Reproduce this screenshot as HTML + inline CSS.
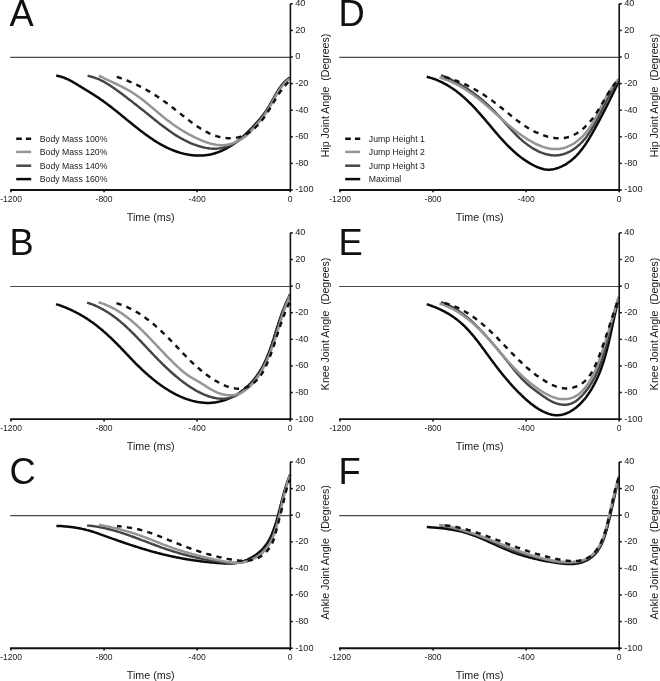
<!DOCTYPE html>
<html><head><meta charset="utf-8"><style>
html,body{margin:0;padding:0;background:#fff;}
svg{display:block;will-change:transform;}
text{font-family:"Liberation Sans", sans-serif;fill:#1a1a1a;}
.tk{font-size:9.2px;}
.tkx{font-size:8.5px;}
.xl{font-size:10.7px;}
.yl{font-size:10.6px;}
.lg{font-size:8.7px;}
.lt{font-size:36.3px;fill:#111;}
</style></head><body>
<svg width="660" height="681" viewBox="0 0 660 681">
<rect width="660" height="681" fill="#fff"/>
<line x1="10.20" y1="57.40" x2="290.20" y2="57.40" stroke="#4a4a4a" stroke-width="1.1"/>
<path d="M56.2,75.6 L56.9,75.7 L57.7,75.9 L58.4,76.0 L59.1,76.2 L59.8,76.4 L60.5,76.5 L61.2,76.8 L61.9,77.0 L62.6,77.2 L63.3,77.4 L64.0,77.7 L64.7,78.0 L65.3,78.2 L66.0,78.5 L66.6,78.8 L67.3,79.1 L68.0,79.4 L68.6,79.7 L69.3,80.0 L69.9,80.4 L70.5,80.7 L71.2,81.0 L71.8,81.4 L72.5,81.7 L73.1,82.1 L73.7,82.5 L74.3,82.8 L75.0,83.2 L75.6,83.6 L76.2,83.9 L76.9,84.3 L77.5,84.7 L78.1,85.1 L78.7,85.5 L79.3,85.8 L80.0,86.2 L80.6,86.6 L81.2,87.0 L81.8,87.4 L82.5,87.8 L83.1,88.1 L83.7,88.5 L84.3,88.9 L85.0,89.3 L85.6,89.7 L86.2,90.1 L86.8,90.4 L87.5,90.8 L88.1,91.2 L88.7,91.6 L89.3,92.0 L90.0,92.4 L90.6,92.8 L91.2,93.2 L91.8,93.5 L92.4,93.9 L93.1,94.3 L93.7,94.7 L94.3,95.1 L94.9,95.5 L95.5,95.9 L96.1,96.3 L96.8,96.7 L97.4,97.1 L98.0,97.5 L98.6,97.9 L99.2,98.3 L99.8,98.7 L100.4,99.2 L101.0,99.6 L101.6,100.0 L102.2,100.4 L102.8,100.8 L103.4,101.3 L104.0,101.7 L104.5,102.1 L105.1,102.5 L105.7,103.0 L106.3,103.4 L106.9,103.8 L107.5,104.3 L108.0,104.7 L108.6,105.1 L109.2,105.6 L109.8,106.0 L110.4,106.5 L110.9,106.9 L111.5,107.3 L112.1,107.8 L112.6,108.2 L113.2,108.7 L113.8,109.1 L114.4,109.6 L114.9,110.0 L115.5,110.5 L116.1,110.9 L116.6,111.4 L117.2,111.8 L117.8,112.3 L118.3,112.8 L118.9,113.2 L119.5,113.7 L120.0,114.1 L120.6,114.6 L121.1,115.0 L121.7,115.5 L122.3,116.0 L122.8,116.4 L123.4,116.9 L124.0,117.3 L124.5,117.8 L125.1,118.3 L125.6,118.7 L126.2,119.2 L126.8,119.6 L127.3,120.1 L127.9,120.6 L128.5,121.0 L129.0,121.5 L129.6,121.9 L130.2,122.4 L130.7,122.9 L131.3,123.3 L131.9,123.8 L132.4,124.2 L133.0,124.7 L133.6,125.2 L134.1,125.6 L134.7,126.1 L135.3,126.5 L135.8,127.0 L136.4,127.4 L137.0,127.9 L137.6,128.3 L138.1,128.8 L138.7,129.2 L139.3,129.7 L139.9,130.1 L140.5,130.6 L141.0,131.0 L141.6,131.5 L142.2,131.9 L142.8,132.4 L143.4,132.8 L144.0,133.3 L144.6,133.7 L145.2,134.1 L145.8,134.6 L146.4,135.0 L147.0,135.4 L147.6,135.9 L148.2,136.3 L148.8,136.7 L149.4,137.1 L150.0,137.6 L150.6,138.0 L151.2,138.4 L151.8,138.8 L152.4,139.2 L153.0,139.6 L153.6,140.0 L154.2,140.4 L154.9,140.8 L155.5,141.2 L156.1,141.6 L156.7,142.0 L157.4,142.4 L158.0,142.7 L158.6,143.1 L159.2,143.5 L159.9,143.9 L160.5,144.2 L161.1,144.6 L161.8,144.9 L162.4,145.3 L163.1,145.6 L163.7,146.0 L164.4,146.3 L165.0,146.6 L165.6,147.0 L166.3,147.3 L167.0,147.6 L167.6,147.9 L168.3,148.2 L168.9,148.6 L169.6,148.8 L170.3,149.1 L170.9,149.4 L171.6,149.7 L172.3,150.0 L172.9,150.3 L173.6,150.5 L174.3,150.8 L175.0,151.0 L175.7,151.3 L176.3,151.5 L177.0,151.8 L177.7,152.0 L178.4,152.2 L179.1,152.4 L179.8,152.7 L180.5,152.9 L181.2,153.1 L181.9,153.2 L182.6,153.4 L183.3,153.6 L184.0,153.8 L184.7,153.9 L185.5,154.1 L186.2,154.2 L186.9,154.4 L187.6,154.5 L188.3,154.6 L189.0,154.8 L189.8,154.9 L190.5,155.0 L191.2,155.1 L191.9,155.2 L192.7,155.2 L193.4,155.3 L194.1,155.4 L194.8,155.4 L195.6,155.5 L196.3,155.5 L197.0,155.5 L197.8,155.6 L198.5,155.6 L199.2,155.6 L199.9,155.6 L200.7,155.6 L201.4,155.5 L202.1,155.5 L202.9,155.5 L203.6,155.4 L204.3,155.3 L205.0,155.3 L205.8,155.2 L206.5,155.1 L207.2,155.0 L207.9,154.9 L208.6,154.8 L209.4,154.7 L210.1,154.5 L210.8,154.4 L211.5,154.2 L212.2,154.0 L212.9,153.9 L213.6,153.7 L214.3,153.5 L215.0,153.3 L215.7,153.0 L216.4,152.8 L217.1,152.6 L217.8,152.3 L218.5,152.1 L219.2,151.8 L219.9,151.5 L220.5,151.2 L221.2,151.0 L221.9,150.7 L222.6,150.4 L223.2,150.0 L223.9,149.7 L224.5,149.4 L225.2,149.1 L225.8,148.7 L226.5,148.4 L227.1,148.0 L227.7,147.7 L228.4,147.3 L229.0,146.9 L229.6,146.6 L230.2,146.2 L230.9,145.8 L231.5,145.4 L232.1,145.0 L232.7,144.6 L233.3,144.2 L233.9,143.8 L234.5,143.4 L235.1,142.9 L235.7,142.5 L236.3,142.1 L236.8,141.6 L237.4,141.2 L238.0,140.7 L238.6,140.3 L239.2,139.8 L239.7,139.3 L240.3,138.9 L240.9,138.4 L241.4,137.9 L242.0,137.5 L242.5,137.0 L243.1,136.5 L243.6,136.0 L244.2,135.5 L244.7,135.0 L245.3,134.5 L245.8,134.0 L246.3,133.5 L246.9,133.0 L247.4,132.5 L247.9,132.0 L248.4,131.5 L249.0,130.9 L249.5,130.4 L250.0,129.9 L250.5,129.4 L251.0,128.8 L251.5,128.3 L252.0,127.8 L252.5,127.3 L253.0,126.7 L253.5,126.2 L254.0,125.7 L254.5,125.1 L255.0,124.6 L255.5,124.0 L256.0,123.5 L256.5,123.0 L257.0,122.4 L257.5,121.9 L258.0,121.3 L258.4,120.8 L258.9,120.2 L259.4,119.7 L259.9,119.1 L260.3,118.6 L260.8,118.0 L261.2,117.4 L261.7,116.9 L262.1,116.3 L262.6,115.7 L263.0,115.2 L263.5,114.6 L263.9,114.0 L264.3,113.4 L264.8,112.8 L265.2,112.2 L265.6,111.7 L266.0,111.1 L266.4,110.5 L266.8,109.8 L267.2,109.2 L267.6,108.6 L268.0,108.0 L268.4,107.4 L268.7,106.8 L269.1,106.2 L269.5,105.5 L269.9,104.9 L270.2,104.3 L270.6,103.6 L270.9,103.0 L271.3,102.4 L271.7,101.7 L272.0,101.1 L272.4,100.4 L272.7,99.8 L273.1,99.2 L273.5,98.5 L273.8,97.9 L274.2,97.2 L274.5,96.6 L274.9,95.9 L275.2,95.3 L275.6,94.7 L276.0,94.0 L276.3,93.4 L276.7,92.7 L277.1,92.1 L277.5,91.5 L277.9,90.9 L278.2,90.2 L278.6,89.6 L279.0,89.0 L279.4,88.4 L279.8,87.8 L280.3,87.2 L280.7,86.6 L281.1,86.0 L281.6,85.4 L282.0,84.9 L282.5,84.3 L282.9,83.7 L283.4,83.2 L283.9,82.7 L284.4,82.1 L284.9,81.6 L285.4,81.1 L285.9,80.6 L286.5,80.2 L287.0,79.7 L287.6,79.2 L288.2,78.8 L288.8,78.4 L289.4,78.0 L290.0,77.6" fill="none" stroke="#0a0a0a" stroke-width="2.5" stroke-linecap="butt" stroke-linejoin="round"/>
<path d="M87.6,75.8 L88.9,76.1 L90.1,76.3 L91.4,76.7 L92.6,77.0 L93.8,77.4 L95.1,77.8 L96.3,78.3 L97.4,78.7 L98.6,79.2 L99.8,79.7 L100.9,80.3 L102.1,80.9 L103.2,81.4 L104.3,82.0 L105.4,82.7 L106.5,83.3 L107.6,84.0 L108.7,84.7 L109.8,85.3 L110.9,86.1 L112.0,86.8 L113.0,87.5 L114.1,88.2 L115.1,89.0 L116.2,89.7 L117.2,90.5 L118.3,91.2 L119.3,92.0 L120.3,92.8 L121.4,93.6 L122.4,94.3 L123.4,95.1 L124.5,95.9 L125.5,96.6 L126.5,97.4 L127.5,98.2 L128.6,99.0 L129.6,99.8 L130.6,100.6 L131.6,101.3 L132.6,102.1 L133.6,102.9 L134.7,103.7 L135.7,104.5 L136.7,105.3 L137.7,106.1 L138.7,106.9 L139.7,107.7 L140.7,108.5 L141.7,109.3 L142.7,110.0 L143.7,110.8 L144.7,111.6 L145.7,112.4 L146.7,113.2 L147.7,114.0 L148.7,114.8 L149.7,115.7 L150.7,116.5 L151.7,117.3 L152.7,118.1 L153.7,118.9 L154.7,119.7 L155.7,120.5 L156.7,121.3 L157.7,122.1 L158.7,122.9 L159.7,123.7 L160.7,124.4 L161.7,125.2 L162.8,126.0 L163.8,126.8 L164.8,127.6 L165.8,128.3 L166.9,129.1 L167.9,129.8 L168.9,130.6 L170.0,131.3 L171.0,132.0 L172.1,132.8 L173.2,133.5 L174.2,134.2 L175.3,134.9 L176.4,135.6 L177.5,136.2 L178.6,136.9 L179.7,137.5 L180.8,138.2 L182.0,138.8 L183.1,139.4 L184.2,140.0 L185.4,140.6 L186.5,141.2 L187.7,141.7 L188.9,142.3 L190.1,142.8 L191.2,143.3 L192.4,143.8 L193.6,144.3 L194.8,144.7 L196.1,145.2 L197.3,145.6 L198.5,146.0 L199.7,146.3 L201.0,146.7 L202.2,147.0 L203.5,147.4 L204.7,147.6 L206.0,147.9 L207.3,148.1 L208.5,148.3 L209.8,148.5 L211.1,148.6 L212.3,148.7 L213.6,148.7 L214.9,148.7 L216.2,148.7 L217.4,148.6 L218.7,148.4 L219.9,148.3 L221.2,148.0 L222.4,147.8 L223.7,147.5 L224.9,147.1 L226.1,146.7 L227.4,146.3 L228.6,145.8 L229.8,145.4 L230.9,144.8 L232.1,144.3 L233.3,143.7 L234.4,143.1 L235.5,142.5 L236.7,141.8 L237.7,141.1 L238.8,140.4 L239.9,139.7 L240.9,139.0 L242.0,138.2 L243.0,137.4 L244.0,136.6 L245.0,135.8 L246.0,134.9 L246.9,134.1 L247.9,133.2 L248.8,132.3 L249.7,131.4 L250.6,130.5 L251.5,129.6 L252.4,128.6 L253.3,127.7 L254.1,126.8 L255.0,125.8 L255.8,124.8 L256.7,123.9 L257.5,122.9 L258.3,121.9 L259.2,121.0 L260.0,120.0 L260.8,119.0 L261.6,118.0 L262.3,116.9 L263.1,115.9 L263.9,114.9 L264.6,113.8 L265.3,112.8 L266.0,111.7 L266.7,110.6 L267.4,109.6 L268.1,108.5 L268.8,107.4 L269.4,106.2 L270.0,105.1 L270.7,104.0 L271.3,102.9 L272.0,101.7 L272.6,100.6 L273.2,99.5 L273.8,98.4 L274.5,97.2 L275.1,96.1 L275.8,95.0 L276.4,93.9 L277.1,92.8 L277.8,91.7 L278.5,90.7 L279.2,89.6 L279.9,88.6 L280.7,87.5 L281.4,86.5 L282.2,85.5 L283.0,84.5 L283.9,83.6 L284.7,82.7 L285.6,81.8 L286.5,80.9 L287.5,80.0 L288.5,79.2 L289.5,78.4 L290.0,78.0" fill="none" stroke="#444" stroke-width="2.45" stroke-linecap="butt" stroke-linejoin="round"/>
<path d="M98.8,75.5 L99.9,76.1 L100.9,76.6 L102.0,77.2 L103.1,77.7 L104.2,78.3 L105.2,78.8 L106.3,79.3 L107.4,79.9 L108.5,80.4 L109.6,80.9 L110.7,81.4 L111.8,81.9 L112.9,82.5 L114.1,83.0 L115.2,83.5 L116.3,84.0 L117.4,84.5 L118.5,85.0 L119.6,85.6 L120.7,86.1 L121.7,86.6 L122.8,87.2 L123.9,87.8 L125.0,88.3 L126.1,88.9 L127.1,89.5 L128.2,90.1 L129.2,90.7 L130.3,91.3 L131.3,91.9 L132.3,92.6 L133.3,93.2 L134.4,93.9 L135.4,94.6 L136.4,95.2 L137.3,95.9 L138.3,96.6 L139.3,97.4 L140.3,98.1 L141.3,98.8 L142.2,99.5 L143.2,100.3 L144.1,101.0 L145.1,101.8 L146.0,102.6 L147.0,103.3 L147.9,104.1 L148.9,104.9 L149.8,105.6 L150.7,106.4 L151.7,107.2 L152.6,108.0 L153.5,108.8 L154.5,109.6 L155.4,110.4 L156.3,111.1 L157.3,111.9 L158.2,112.7 L159.1,113.5 L160.1,114.3 L161.0,115.0 L161.9,115.8 L162.9,116.6 L163.8,117.4 L164.8,118.1 L165.7,118.9 L166.7,119.6 L167.6,120.4 L168.6,121.1 L169.6,121.8 L170.6,122.6 L171.5,123.3 L172.5,124.0 L173.5,124.7 L174.5,125.4 L175.5,126.1 L176.5,126.7 L177.5,127.4 L178.5,128.1 L179.5,128.7 L180.6,129.4 L181.6,130.0 L182.6,130.7 L183.7,131.3 L184.7,131.9 L185.7,132.5 L186.8,133.1 L187.9,133.7 L188.9,134.3 L190.0,134.9 L191.1,135.4 L192.1,136.0 L193.2,136.5 L194.3,137.1 L195.4,137.6 L196.5,138.1 L197.6,138.7 L198.7,139.2 L199.9,139.7 L201.0,140.1 L202.1,140.6 L203.3,141.1 L204.4,141.5 L205.5,141.9 L206.7,142.4 L207.9,142.8 L209.0,143.1 L210.2,143.5 L211.4,143.8 L212.5,144.1 L213.7,144.3 L214.9,144.6 L216.1,144.8 L217.3,144.9 L218.4,145.1 L219.6,145.1 L220.8,145.2 L222.0,145.2 L223.2,145.2 L224.4,145.1 L225.6,144.9 L226.8,144.8 L228.0,144.6 L229.2,144.3 L230.4,144.0 L231.6,143.6 L232.8,143.3 L233.9,142.8 L235.1,142.4 L236.2,141.9 L237.3,141.4 L238.5,140.8 L239.5,140.2 L240.6,139.6 L241.7,139.0 L242.7,138.3 L243.7,137.6 L244.7,136.9 L245.6,136.1 L246.6,135.3 L247.5,134.5 L248.4,133.7 L249.2,132.9 L250.1,132.0 L250.9,131.2 L251.7,130.3 L252.5,129.4 L253.4,128.5 L254.2,127.6 L254.9,126.7 L255.7,125.8 L256.5,124.9 L257.3,124.0 L258.1,123.1 L258.9,122.2 L259.7,121.2 L260.5,120.3 L261.2,119.3 L262.0,118.4 L262.7,117.4 L263.5,116.5 L264.2,115.5 L264.9,114.5 L265.6,113.5 L266.3,112.5 L266.9,111.5 L267.6,110.4 L268.2,109.4 L268.8,108.3 L269.5,107.3 L270.1,106.2 L270.7,105.2 L271.3,104.1 L271.9,103.0 L272.4,101.9 L273.0,100.9 L273.6,99.8 L274.2,98.7 L274.8,97.7 L275.4,96.6 L276.0,95.5 L276.6,94.5 L277.2,93.4 L277.8,92.4 L278.5,91.4 L279.1,90.4 L279.8,89.4 L280.5,88.4 L281.2,87.4 L281.9,86.4 L282.6,85.5 L283.4,84.6 L284.2,83.7 L285.0,82.8 L285.9,81.9 L286.7,81.1 L287.6,80.2 L288.5,79.4 L289.5,78.7 L290.0,78.3" fill="none" stroke="#959595" stroke-width="2.5" stroke-linecap="butt" stroke-linejoin="round"/>
<path d="M116.8,76.8 L117.8,77.1 L118.8,77.5 L119.9,77.8 L120.9,78.2 L121.9,78.5 L122.9,78.9 L123.9,79.3 L124.9,79.7 L125.9,80.1 L127.0,80.5 L128.0,80.9 L129.0,81.3 L130.0,81.8 L131.0,82.2 L132.0,82.6 L133.0,83.1 L134.0,83.5 L135.0,84.0 L136.0,84.5 L137.0,84.9 L138.0,85.4 L138.9,85.9 L139.9,86.4 L140.9,86.9 L141.9,87.4 L142.9,87.9 L143.8,88.5 L144.8,89.0 L145.8,89.5 L146.7,90.1 L147.7,90.6 L148.6,91.2 L149.6,91.7 L150.5,92.3 L151.4,92.8 L152.4,93.4 L153.3,94.0 L154.2,94.6 L155.1,95.1 L156.1,95.7 L157.0,96.3 L157.9,96.9 L158.8,97.5 L159.6,98.1 L160.5,98.7 L161.4,99.3 L162.3,99.9 L163.2,100.6 L164.0,101.2 L164.9,101.8 L165.8,102.4 L166.6,103.1 L167.5,103.7 L168.4,104.3 L169.2,105.0 L170.1,105.6 L170.9,106.3 L171.8,106.9 L172.6,107.6 L173.5,108.3 L174.3,108.9 L175.2,109.6 L176.0,110.2 L176.9,110.9 L177.8,111.6 L178.6,112.3 L179.5,112.9 L180.3,113.6 L181.2,114.3 L182.0,115.0 L182.9,115.7 L183.8,116.3 L184.6,117.0 L185.5,117.7 L186.4,118.4 L187.3,119.1 L188.1,119.7 L189.0,120.4 L189.9,121.1 L190.8,121.8 L191.7,122.4 L192.6,123.1 L193.5,123.7 L194.4,124.4 L195.3,125.0 L196.2,125.7 L197.1,126.3 L198.0,126.9 L199.0,127.5 L199.9,128.1 L200.8,128.7 L201.8,129.3 L202.7,129.8 L203.6,130.4 L204.6,130.9 L205.5,131.4 L206.5,131.9 L207.5,132.4 L208.4,132.9 L209.4,133.4 L210.4,133.8 L211.4,134.2 L212.3,134.6 L213.3,135.0 L214.3,135.4 L215.3,135.7 L216.4,136.1 L217.4,136.4 L218.4,136.7 L219.4,136.9 L220.5,137.2 L221.5,137.4 L222.6,137.6 L223.6,137.8 L224.7,137.9 L225.7,138.0 L226.8,138.1 L227.9,138.2 L229.0,138.2 L230.1,138.2 L231.2,138.2 L232.3,138.2 L233.4,138.1 L234.5,138.0 L235.5,137.8 L236.6,137.6 L237.7,137.4 L238.8,137.1 L239.8,136.9 L240.9,136.5 L241.9,136.2 L242.9,135.8 L243.9,135.3 L244.9,134.8 L245.9,134.3 L246.8,133.8 L247.8,133.2 L248.7,132.7 L249.6,132.1 L250.5,131.4 L251.4,130.8 L252.2,130.1 L253.1,129.4 L253.9,128.7 L254.7,128.0 L255.5,127.3 L256.3,126.5 L257.1,125.8 L257.9,125.0 L258.6,124.2 L259.3,123.4 L260.1,122.5 L260.8,121.7 L261.5,120.9 L262.1,120.0 L262.8,119.2 L263.5,118.3 L264.1,117.4 L264.7,116.5 L265.3,115.6 L266.0,114.7 L266.6,113.8 L267.2,112.9 L267.7,112.0 L268.3,111.1 L268.9,110.1 L269.5,109.2 L270.0,108.3 L270.6,107.3 L271.2,106.4 L271.7,105.5 L272.3,104.5 L272.8,103.6 L273.4,102.7 L273.9,101.7 L274.5,100.8 L275.1,99.9 L275.6,98.9 L276.2,98.0 L276.8,97.1 L277.3,96.2 L277.9,95.2 L278.5,94.3 L279.1,93.4 L279.7,92.5 L280.3,91.6 L281.0,90.8 L281.6,89.9 L282.3,89.0 L282.9,88.2 L283.6,87.3 L284.3,86.5 L285.0,85.7 L285.7,84.8 L286.5,84.0 L287.2,83.3 L288.0,82.5 L288.8,81.7 L289.6,81.0 L290.0,80.6" fill="none" stroke="#111" stroke-width="2.45" stroke-dasharray="5.3,5.2" stroke-linecap="butt" stroke-linejoin="round"/>
<line x1="290.40" y1="3.80" x2="290.40" y2="190.90" stroke="#111" stroke-width="1.6"/>
<line x1="10.10" y1="190.00" x2="290.20" y2="190.00" stroke="#111" stroke-width="1.9"/>
<line x1="290.20" y1="3.80" x2="292.80" y2="3.80" stroke="#111" stroke-width="1.5"/>
<text x="295.20" y="6.20" class="tk">40</text>
<line x1="290.20" y1="30.40" x2="292.80" y2="30.40" stroke="#111" stroke-width="1.5"/>
<text x="295.20" y="32.80" class="tk">20</text>
<line x1="290.20" y1="57.00" x2="292.80" y2="57.00" stroke="#111" stroke-width="1.5"/>
<text x="295.20" y="59.40" class="tk">0</text>
<line x1="290.20" y1="83.60" x2="292.80" y2="83.60" stroke="#111" stroke-width="1.5"/>
<text x="295.20" y="86.00" class="tk">-20</text>
<line x1="290.20" y1="110.20" x2="292.80" y2="110.20" stroke="#111" stroke-width="1.5"/>
<text x="295.20" y="112.60" class="tk">-40</text>
<line x1="290.20" y1="136.80" x2="292.80" y2="136.80" stroke="#111" stroke-width="1.5"/>
<text x="295.20" y="139.20" class="tk">-60</text>
<line x1="290.20" y1="163.40" x2="292.80" y2="163.40" stroke="#111" stroke-width="1.5"/>
<text x="295.20" y="165.80" class="tk">-80</text>
<line x1="290.20" y1="190.00" x2="292.80" y2="190.00" stroke="#111" stroke-width="1.5"/>
<text x="295.20" y="192.40" class="tk">-100</text>
<line x1="11.00" y1="190.00" x2="11.00" y2="192.30" stroke="#111" stroke-width="1.6"/>
<text x="11.00" y="201.90" class="tkx" text-anchor="middle">-1200</text>
<line x1="104.07" y1="190.00" x2="104.07" y2="192.30" stroke="#111" stroke-width="1.6"/>
<text x="104.07" y="201.90" class="tkx" text-anchor="middle">-800</text>
<line x1="197.13" y1="190.00" x2="197.13" y2="192.30" stroke="#111" stroke-width="1.6"/>
<text x="197.13" y="201.90" class="tkx" text-anchor="middle">-400</text>
<line x1="290.20" y1="190.00" x2="290.20" y2="192.30" stroke="#111" stroke-width="1.6"/>
<text x="290.20" y="201.90" class="tkx" text-anchor="middle">0</text>
<text x="150.70" y="220.50" class="xl" text-anchor="middle">Time (ms)</text>
<text transform="translate(329.00,95.50) rotate(-90)" class="yl" text-anchor="middle">Hip Joint Angle&#160;&#160;(Degrees)</text>
<text x="9.60" y="25.50" class="lt">A</text>
<line x1="16.20" y1="138.70" x2="31.20" y2="138.70" stroke="#111" stroke-width="2.4" stroke-dasharray="5.6,4.1"/>
<text x="39.80" y="141.90" class="lg">Body Mass 100%</text>
<line x1="16.20" y1="151.90" x2="31.20" y2="151.90" stroke="#959595" stroke-width="2.5"/>
<text x="39.80" y="155.10" class="lg">Body Mass 120%</text>
<line x1="16.20" y1="165.70" x2="31.20" y2="165.70" stroke="#444" stroke-width="2.45"/>
<text x="39.80" y="168.90" class="lg">Body Mass 140%</text>
<line x1="16.20" y1="179.10" x2="31.20" y2="179.10" stroke="#0a0a0a" stroke-width="2.5"/>
<text x="39.80" y="182.30" class="lg">Body Mass 160%</text>
<line x1="10.20" y1="286.50" x2="290.20" y2="286.50" stroke="#4a4a4a" stroke-width="1.1"/>
<path d="M56.1,304.1 L56.9,304.4 L57.7,304.6 L58.5,304.9 L59.3,305.2 L60.0,305.4 L60.8,305.7 L61.6,306.0 L62.4,306.3 L63.2,306.6 L63.9,306.9 L64.7,307.2 L65.5,307.5 L66.3,307.8 L67.0,308.1 L67.8,308.5 L68.5,308.8 L69.3,309.1 L70.1,309.5 L70.8,309.8 L71.6,310.2 L72.3,310.5 L73.1,310.9 L73.8,311.3 L74.6,311.6 L75.3,312.0 L76.0,312.4 L76.8,312.8 L77.5,313.1 L78.2,313.5 L79.0,313.9 L79.7,314.3 L80.4,314.7 L81.1,315.2 L81.8,315.6 L82.6,316.0 L83.3,316.4 L84.0,316.8 L84.7,317.3 L85.4,317.7 L86.1,318.2 L86.8,318.6 L87.5,319.1 L88.2,319.5 L88.9,320.0 L89.5,320.4 L90.2,320.9 L90.9,321.4 L91.6,321.9 L92.2,322.3 L92.9,322.8 L93.6,323.3 L94.2,323.8 L94.9,324.3 L95.6,324.8 L96.2,325.3 L96.9,325.8 L97.5,326.3 L98.2,326.8 L98.8,327.4 L99.5,327.9 L100.1,328.4 L100.7,328.9 L101.4,329.5 L102.0,330.0 L102.7,330.5 L103.3,331.1 L103.9,331.6 L104.5,332.2 L105.2,332.7 L105.8,333.3 L106.4,333.8 L107.0,334.4 L107.6,334.9 L108.2,335.5 L108.8,336.1 L109.4,336.6 L110.1,337.2 L110.7,337.8 L111.3,338.3 L111.9,338.9 L112.5,339.5 L113.1,340.1 L113.6,340.6 L114.2,341.2 L114.8,341.8 L115.4,342.4 L116.0,343.0 L116.6,343.6 L117.2,344.2 L117.8,344.8 L118.3,345.3 L118.9,345.9 L119.5,346.5 L120.1,347.1 L120.7,347.7 L121.2,348.3 L121.8,348.9 L122.4,349.5 L123.0,350.1 L123.5,350.7 L124.1,351.3 L124.7,351.9 L125.2,352.5 L125.8,353.1 L126.4,353.7 L126.9,354.3 L127.5,354.9 L128.1,355.5 L128.7,356.1 L129.2,356.7 L129.8,357.3 L130.4,357.9 L130.9,358.5 L131.5,359.1 L132.1,359.7 L132.7,360.3 L133.2,360.9 L133.8,361.5 L134.4,362.1 L135.0,362.7 L135.5,363.3 L136.1,363.9 L136.7,364.5 L137.3,365.0 L137.9,365.6 L138.5,366.2 L139.1,366.8 L139.7,367.3 L140.3,367.9 L140.9,368.5 L141.5,369.1 L142.1,369.6 L142.7,370.2 L143.3,370.7 L143.9,371.3 L144.5,371.9 L145.1,372.4 L145.7,373.0 L146.3,373.5 L146.9,374.1 L147.6,374.6 L148.2,375.2 L148.8,375.7 L149.4,376.2 L150.1,376.8 L150.7,377.3 L151.3,377.8 L152.0,378.4 L152.6,378.9 L153.3,379.4 L153.9,379.9 L154.5,380.4 L155.2,380.9 L155.9,381.5 L156.5,382.0 L157.2,382.5 L157.8,383.0 L158.5,383.5 L159.2,384.0 L159.8,384.4 L160.5,384.9 L161.2,385.4 L161.9,385.9 L162.6,386.4 L163.2,386.8 L163.9,387.3 L164.6,387.8 L165.3,388.2 L166.0,388.7 L166.7,389.1 L167.4,389.6 L168.2,390.0 L168.9,390.5 L169.6,390.9 L170.3,391.3 L171.0,391.8 L171.8,392.2 L172.5,392.6 L173.2,393.0 L174.0,393.4 L174.7,393.8 L175.4,394.2 L176.2,394.6 L176.9,394.9 L177.7,395.3 L178.5,395.7 L179.2,396.0 L180.0,396.4 L180.7,396.7 L181.5,397.0 L182.3,397.4 L183.1,397.7 L183.8,398.0 L184.6,398.3 L185.4,398.6 L186.2,398.9 L187.0,399.2 L187.8,399.4 L188.6,399.7 L189.4,399.9 L190.2,400.2 L190.9,400.4 L191.7,400.6 L192.5,400.9 L193.4,401.1 L194.2,401.3 L195.0,401.5 L195.8,401.6 L196.6,401.8 L197.4,401.9 L198.2,402.1 L199.0,402.2 L199.8,402.3 L200.6,402.5 L201.4,402.6 L202.3,402.6 L203.1,402.7 L203.9,402.8 L204.7,402.8 L205.5,402.9 L206.3,402.9 L207.1,402.9 L208.0,402.9 L208.8,402.9 L209.6,402.9 L210.4,402.9 L211.2,402.8 L212.0,402.8 L212.8,402.7 L213.7,402.6 L214.5,402.5 L215.3,402.4 L216.1,402.3 L216.9,402.1 L217.7,402.0 L218.5,401.8 L219.3,401.6 L220.1,401.4 L220.9,401.2 L221.7,401.0 L222.5,400.8 L223.3,400.6 L224.1,400.3 L224.9,400.0 L225.7,399.8 L226.5,399.5 L227.2,399.2 L228.0,398.9 L228.8,398.6 L229.5,398.2 L230.3,397.9 L231.1,397.5 L231.8,397.2 L232.6,396.8 L233.3,396.4 L234.1,396.0 L234.8,395.6 L235.5,395.2 L236.2,394.8 L237.0,394.4 L237.7,393.9 L238.4,393.5 L239.1,393.0 L239.8,392.5 L240.5,392.1 L241.2,391.6 L241.8,391.1 L242.5,390.6 L243.2,390.1 L243.8,389.6 L244.5,389.0 L245.1,388.5 L245.8,388.0 L246.4,387.4 L247.0,386.8 L247.6,386.3 L248.2,385.7 L248.8,385.1 L249.4,384.5 L250.0,384.0 L250.6,383.4 L251.1,382.8 L251.7,382.1 L252.2,381.5 L252.8,380.9 L253.3,380.3 L253.9,379.6 L254.4,379.0 L254.9,378.3 L255.4,377.7 L255.9,377.0 L256.4,376.4 L256.9,375.7 L257.4,375.0 L257.8,374.3 L258.3,373.6 L258.8,373.0 L259.2,372.3 L259.7,371.6 L260.1,370.9 L260.5,370.2 L260.9,369.4 L261.4,368.7 L261.8,368.0 L262.2,367.3 L262.6,366.6 L263.0,365.8 L263.4,365.1 L263.7,364.4 L264.1,363.6 L264.5,362.9 L264.8,362.1 L265.2,361.4 L265.5,360.6 L265.9,359.9 L266.2,359.1 L266.6,358.4 L266.9,357.6 L267.2,356.8 L267.5,356.1 L267.8,355.3 L268.1,354.5 L268.4,353.8 L268.7,353.0 L269.0,352.2 L269.3,351.5 L269.6,350.7 L269.9,349.9 L270.2,349.1 L270.5,348.3 L270.7,347.5 L271.0,346.8 L271.3,346.0 L271.5,345.2 L271.8,344.4 L272.1,343.6 L272.3,342.8 L272.6,342.0 L272.8,341.2 L273.1,340.4 L273.3,339.7 L273.6,338.9 L273.8,338.1 L274.1,337.3 L274.3,336.5 L274.6,335.7 L274.8,334.9 L275.1,334.1 L275.3,333.3 L275.6,332.5 L275.8,331.7 L276.0,330.9 L276.3,330.1 L276.5,329.3 L276.8,328.5 L277.0,327.7 L277.3,327.0 L277.5,326.2 L277.8,325.4 L278.1,324.6 L278.3,323.8 L278.6,323.0 L278.8,322.2 L279.1,321.4 L279.3,320.6 L279.6,319.9 L279.9,319.1 L280.1,318.3 L280.4,317.5 L280.7,316.7 L281.0,315.9 L281.2,315.2 L281.5,314.4 L281.8,313.6 L282.1,312.8 L282.4,312.1 L282.7,311.3 L283.0,310.5 L283.3,309.7 L283.6,309.0 L283.9,308.2 L284.2,307.4 L284.5,306.7 L284.8,305.9 L285.1,305.1 L285.4,304.4 L285.8,303.6 L286.1,302.8 L286.4,302.1 L286.8,301.3 L287.1,300.6 L287.5,299.8 L287.8,299.1 L288.2,298.3 L288.5,297.6 L288.9,296.8 L289.2,296.1 L289.6,295.3 L290.0,294.6" fill="none" stroke="#0a0a0a" stroke-width="2.5" stroke-linecap="butt" stroke-linejoin="round"/>
<path d="M87.1,302.6 L87.8,302.8 L88.6,303.1 L89.3,303.3 L90.0,303.6 L90.7,303.8 L91.5,304.1 L92.2,304.4 L92.9,304.6 L93.6,304.9 L94.3,305.2 L95.0,305.5 L95.7,305.8 L96.4,306.1 L97.0,306.4 L97.7,306.7 L98.4,307.1 L99.1,307.4 L99.7,307.7 L100.4,308.1 L101.1,308.4 L101.7,308.8 L102.4,309.1 L103.0,309.5 L103.7,309.8 L104.3,310.2 L105.0,310.6 L105.6,311.0 L106.2,311.4 L106.9,311.8 L107.5,312.1 L108.1,312.5 L108.8,313.0 L109.4,313.4 L110.0,313.8 L110.6,314.2 L111.2,314.6 L111.8,315.0 L112.4,315.5 L113.0,315.9 L113.6,316.3 L114.2,316.8 L114.8,317.2 L115.4,317.7 L116.0,318.1 L116.6,318.6 L117.2,319.0 L117.8,319.5 L118.4,320.0 L119.0,320.4 L119.5,320.9 L120.1,321.4 L120.7,321.9 L121.2,322.4 L121.8,322.9 L122.4,323.3 L122.9,323.8 L123.5,324.3 L124.1,324.8 L124.6,325.3 L125.2,325.8 L125.7,326.3 L126.3,326.8 L126.8,327.4 L127.4,327.9 L127.9,328.4 L128.5,328.9 L129.0,329.4 L129.6,329.9 L130.1,330.5 L130.7,331.0 L131.2,331.5 L131.7,332.0 L132.3,332.6 L132.8,333.1 L133.4,333.6 L133.9,334.2 L134.4,334.7 L134.9,335.3 L135.5,335.8 L136.0,336.3 L136.5,336.9 L137.1,337.4 L137.6,338.0 L138.1,338.5 L138.6,339.1 L139.2,339.6 L139.7,340.2 L140.2,340.7 L140.7,341.3 L141.3,341.8 L141.8,342.4 L142.3,342.9 L142.8,343.5 L143.3,344.0 L143.9,344.6 L144.4,345.1 L144.9,345.7 L145.4,346.2 L145.9,346.8 L146.4,347.3 L147.0,347.9 L147.5,348.4 L148.0,349.0 L148.5,349.5 L149.0,350.1 L149.5,350.6 L150.1,351.2 L150.6,351.7 L151.1,352.3 L151.6,352.8 L152.1,353.4 L152.7,353.9 L153.2,354.5 L153.7,355.0 L154.2,355.5 L154.7,356.1 L155.3,356.6 L155.8,357.2 L156.3,357.7 L156.8,358.2 L157.4,358.8 L157.9,359.3 L158.4,359.9 L158.9,360.4 L159.5,360.9 L160.0,361.5 L160.5,362.0 L161.0,362.5 L161.6,363.0 L162.1,363.6 L162.6,364.1 L163.2,364.6 L163.7,365.1 L164.2,365.7 L164.8,366.2 L165.3,366.7 L165.9,367.2 L166.4,367.7 L166.9,368.2 L167.5,368.7 L168.0,369.3 L168.6,369.8 L169.1,370.3 L169.7,370.8 L170.2,371.3 L170.8,371.8 L171.3,372.3 L171.9,372.8 L172.5,373.3 L173.0,373.7 L173.6,374.2 L174.1,374.7 L174.7,375.2 L175.3,375.7 L175.9,376.2 L176.4,376.7 L177.0,377.1 L177.6,377.6 L178.2,378.1 L178.7,378.6 L179.3,379.0 L179.9,379.5 L180.5,379.9 L181.1,380.4 L181.7,380.9 L182.3,381.3 L182.9,381.8 L183.5,382.2 L184.1,382.7 L184.7,383.1 L185.3,383.6 L185.9,384.0 L186.5,384.4 L187.2,384.9 L187.8,385.3 L188.4,385.7 L189.0,386.2 L189.7,386.6 L190.3,387.0 L190.9,387.4 L191.6,387.8 L192.2,388.2 L192.8,388.6 L193.5,389.0 L194.1,389.4 L194.8,389.8 L195.4,390.2 L196.1,390.6 L196.8,390.9 L197.4,391.3 L198.1,391.7 L198.8,392.0 L199.4,392.4 L200.1,392.7 L200.8,393.0 L201.5,393.4 L202.2,393.7 L202.9,394.0 L203.5,394.3 L204.2,394.6 L204.9,394.9 L205.6,395.2 L206.3,395.4 L207.0,395.7 L207.7,396.0 L208.5,396.2 L209.2,396.5 L209.9,396.7 L210.6,396.9 L211.3,397.1 L212.1,397.3 L212.8,397.5 L213.5,397.7 L214.2,397.8 L215.0,398.0 L215.7,398.1 L216.5,398.3 L217.2,398.4 L217.9,398.5 L218.7,398.6 L219.4,398.6 L220.2,398.7 L220.9,398.7 L221.7,398.7 L222.4,398.7 L223.2,398.7 L223.9,398.7 L224.6,398.6 L225.4,398.6 L226.1,398.5 L226.9,398.4 L227.6,398.3 L228.4,398.1 L229.1,398.0 L229.8,397.8 L230.6,397.6 L231.3,397.4 L232.0,397.2 L232.7,396.9 L233.4,396.7 L234.1,396.4 L234.8,396.1 L235.5,395.8 L236.2,395.5 L236.8,395.1 L237.5,394.8 L238.2,394.4 L238.8,394.0 L239.5,393.6 L240.1,393.2 L240.7,392.8 L241.4,392.4 L242.0,391.9 L242.6,391.5 L243.2,391.0 L243.8,390.5 L244.4,390.1 L245.0,389.6 L245.6,389.1 L246.1,388.6 L246.7,388.1 L247.3,387.5 L247.8,387.0 L248.4,386.5 L248.9,386.0 L249.5,385.4 L250.0,384.9 L250.5,384.4 L251.0,383.8 L251.5,383.3 L252.0,382.7 L252.5,382.1 L253.0,381.6 L253.5,381.0 L254.0,380.4 L254.5,379.8 L255.0,379.2 L255.4,378.7 L255.9,378.1 L256.3,377.5 L256.8,376.9 L257.2,376.3 L257.7,375.6 L258.1,375.0 L258.5,374.4 L258.9,373.8 L259.3,373.2 L259.8,372.5 L260.2,371.9 L260.6,371.3 L261.0,370.6 L261.3,370.0 L261.7,369.3 L262.1,368.7 L262.5,368.0 L262.8,367.4 L263.2,366.7 L263.5,366.1 L263.9,365.4 L264.2,364.8 L264.6,364.1 L264.9,363.4 L265.2,362.7 L265.6,362.1 L265.9,361.4 L266.2,360.7 L266.5,360.0 L266.8,359.4 L267.1,358.7 L267.4,358.0 L267.7,357.3 L268.0,356.6 L268.3,355.9 L268.6,355.2 L268.8,354.5 L269.1,353.8 L269.4,353.1 L269.6,352.4 L269.9,351.7 L270.2,351.0 L270.4,350.3 L270.7,349.6 L270.9,348.9 L271.2,348.2 L271.4,347.5 L271.7,346.8 L271.9,346.0 L272.1,345.3 L272.4,344.6 L272.6,343.9 L272.8,343.2 L273.1,342.5 L273.3,341.7 L273.5,341.0 L273.8,340.3 L274.0,339.6 L274.2,338.9 L274.4,338.1 L274.7,337.4 L274.9,336.7 L275.1,336.0 L275.3,335.3 L275.5,334.5 L275.8,333.8 L276.0,333.1 L276.2,332.4 L276.4,331.6 L276.6,330.9 L276.9,330.2 L277.1,329.5 L277.3,328.8 L277.5,328.0 L277.8,327.3 L278.0,326.6 L278.2,325.9 L278.4,325.2 L278.7,324.4 L278.9,323.7 L279.1,323.0 L279.3,322.3 L279.6,321.6 L279.8,320.8 L280.1,320.1 L280.3,319.4 L280.5,318.7 L280.8,318.0 L281.0,317.3 L281.3,316.6 L281.5,315.9 L281.8,315.2 L282.0,314.4 L282.3,313.7 L282.6,313.0 L282.8,312.3 L283.1,311.6 L283.4,310.9 L283.6,310.2 L283.9,309.5 L284.2,308.9 L284.5,308.2 L284.8,307.5 L285.1,306.8 L285.4,306.1 L285.7,305.4 L286.0,304.7 L286.3,304.0 L286.5,303.3 L286.8,302.6 L287.1,302.0 L287.4,301.3 L287.7,300.6 L288.0,299.9 L288.3,299.2 L288.6,298.5 L288.9,297.8 L289.2,297.1 L289.5,296.4 L289.7,295.7 L290.0,295.0" fill="none" stroke="#444" stroke-width="2.45" stroke-linecap="butt" stroke-linejoin="round"/>
<path d="M98.6,302.3 L99.3,302.5 L100.0,302.7 L100.7,302.9 L101.4,303.2 L102.1,303.4 L102.8,303.6 L103.5,303.9 L104.1,304.1 L104.8,304.4 L105.5,304.7 L106.2,304.9 L106.8,305.2 L107.5,305.5 L108.1,305.8 L108.8,306.1 L109.4,306.4 L110.1,306.7 L110.7,307.0 L111.4,307.3 L112.0,307.6 L112.6,308.0 L113.3,308.3 L113.9,308.6 L114.5,309.0 L115.2,309.3 L115.8,309.7 L116.4,310.0 L117.0,310.4 L117.6,310.7 L118.2,311.1 L118.8,311.5 L119.4,311.9 L120.0,312.3 L120.6,312.6 L121.2,313.0 L121.8,313.4 L122.4,313.8 L123.0,314.2 L123.5,314.6 L124.1,315.0 L124.7,315.5 L125.3,315.9 L125.9,316.3 L126.4,316.7 L127.0,317.2 L127.6,317.6 L128.1,318.0 L128.7,318.5 L129.2,318.9 L129.8,319.4 L130.3,319.8 L130.9,320.3 L131.4,320.7 L132.0,321.2 L132.5,321.7 L133.1,322.1 L133.6,322.6 L134.2,323.1 L134.7,323.5 L135.2,324.0 L135.8,324.5 L136.3,325.0 L136.8,325.5 L137.4,325.9 L137.9,326.4 L138.4,326.9 L138.9,327.4 L139.5,327.9 L140.0,328.4 L140.5,328.9 L141.0,329.4 L141.6,329.9 L142.1,330.4 L142.6,330.9 L143.1,331.4 L143.6,331.9 L144.1,332.4 L144.6,332.9 L145.1,333.5 L145.7,334.0 L146.2,334.5 L146.7,335.0 L147.2,335.5 L147.7,336.0 L148.2,336.6 L148.7,337.1 L149.2,337.6 L149.7,338.1 L150.2,338.6 L150.7,339.2 L151.2,339.7 L151.7,340.2 L152.2,340.7 L152.7,341.3 L153.2,341.8 L153.7,342.3 L154.2,342.8 L154.7,343.4 L155.2,343.9 L155.7,344.4 L156.1,344.9 L156.6,345.4 L157.1,346.0 L157.6,346.5 L158.1,347.0 L158.6,347.5 L159.1,348.1 L159.6,348.6 L160.1,349.1 L160.6,349.6 L161.1,350.1 L161.6,350.7 L162.1,351.2 L162.6,351.7 L163.1,352.2 L163.6,352.7 L164.1,353.2 L164.5,353.7 L165.0,354.3 L165.5,354.8 L166.0,355.3 L166.5,355.8 L167.0,356.3 L167.5,356.8 L168.0,357.3 L168.5,357.8 L169.0,358.3 L169.5,358.8 L170.0,359.3 L170.5,359.8 L171.1,360.3 L171.6,360.9 L172.1,361.4 L172.6,361.9 L173.1,362.4 L173.6,362.9 L174.1,363.4 L174.6,363.9 L175.1,364.4 L175.7,364.9 L176.2,365.4 L176.7,365.9 L177.2,366.4 L177.7,366.9 L178.3,367.4 L178.8,367.8 L179.3,368.3 L179.9,368.8 L180.4,369.3 L180.9,369.8 L181.5,370.3 L182.0,370.7 L182.6,371.2 L183.1,371.7 L183.7,372.1 L184.2,372.6 L184.8,373.0 L185.4,373.4 L185.9,373.9 L186.5,374.3 L187.1,374.7 L187.7,375.1 L188.3,375.5 L188.8,375.9 L189.4,376.3 L190.0,376.7 L190.6,377.0 L191.3,377.4 L191.9,377.8 L192.5,378.1 L193.1,378.5 L193.7,378.8 L194.3,379.2 L194.9,379.6 L195.6,379.9 L196.2,380.3 L196.8,380.6 L197.4,381.0 L198.0,381.3 L198.6,381.7 L199.3,382.1 L199.9,382.4 L200.5,382.8 L201.1,383.2 L201.7,383.6 L202.3,384.0 L202.9,384.3 L203.6,384.7 L204.2,385.1 L204.8,385.5 L205.4,385.9 L206.0,386.3 L206.6,386.7 L207.2,387.1 L207.8,387.4 L208.5,387.8 L209.1,388.2 L209.7,388.6 L210.3,389.0 L210.9,389.3 L211.6,389.7 L212.2,390.0 L212.8,390.4 L213.5,390.7 L214.1,391.0 L214.7,391.4 L215.4,391.7 L216.0,392.0 L216.7,392.3 L217.4,392.6 L218.0,392.8 L218.7,393.1 L219.4,393.3 L220.0,393.6 L220.7,393.8 L221.4,394.0 L222.1,394.2 L222.8,394.4 L223.5,394.5 L224.2,394.7 L224.9,394.8 L225.6,395.0 L226.3,395.1 L227.1,395.1 L227.8,395.2 L228.5,395.3 L229.2,395.3 L229.9,395.3 L230.6,395.3 L231.3,395.3 L232.1,395.3 L232.8,395.2 L233.5,395.1 L234.2,395.0 L234.9,394.9 L235.6,394.8 L236.3,394.6 L236.9,394.4 L237.6,394.3 L238.3,394.0 L239.0,393.8 L239.6,393.5 L240.3,393.2 L240.9,392.9 L241.6,392.6 L242.2,392.3 L242.8,391.9 L243.4,391.5 L244.0,391.1 L244.6,390.7 L245.2,390.3 L245.8,389.8 L246.4,389.4 L246.9,388.9 L247.5,388.5 L248.0,388.0 L248.6,387.5 L249.1,387.1 L249.7,386.6 L250.2,386.1 L250.7,385.6 L251.2,385.1 L251.7,384.5 L252.2,384.0 L252.7,383.5 L253.2,383.0 L253.6,382.4 L254.1,381.9 L254.6,381.3 L255.0,380.8 L255.5,380.2 L255.9,379.6 L256.3,379.1 L256.8,378.5 L257.2,377.9 L257.6,377.3 L258.0,376.7 L258.4,376.1 L258.8,375.6 L259.2,375.0 L259.6,374.3 L260.0,373.7 L260.4,373.1 L260.7,372.5 L261.1,371.9 L261.5,371.3 L261.8,370.6 L262.2,370.0 L262.5,369.4 L262.9,368.8 L263.2,368.1 L263.6,367.5 L263.9,366.8 L264.2,366.2 L264.5,365.6 L264.9,364.9 L265.2,364.3 L265.5,363.6 L265.8,363.0 L266.1,362.3 L266.4,361.7 L266.7,361.0 L267.0,360.4 L267.3,359.7 L267.6,359.0 L267.9,358.4 L268.1,357.7 L268.4,357.1 L268.7,356.4 L269.0,355.7 L269.2,355.1 L269.5,354.4 L269.8,353.7 L270.0,353.1 L270.3,352.4 L270.5,351.7 L270.8,351.1 L271.0,350.4 L271.3,349.7 L271.5,349.1 L271.8,348.4 L272.0,347.7 L272.3,347.0 L272.5,346.4 L272.8,345.7 L273.0,345.0 L273.2,344.3 L273.5,343.7 L273.7,343.0 L273.9,342.3 L274.1,341.6 L274.4,340.9 L274.6,340.3 L274.8,339.6 L275.0,338.9 L275.3,338.2 L275.5,337.5 L275.7,336.9 L275.9,336.2 L276.1,335.5 L276.3,334.8 L276.6,334.1 L276.8,333.4 L277.0,332.8 L277.2,332.1 L277.4,331.4 L277.6,330.7 L277.8,330.0 L278.1,329.3 L278.3,328.6 L278.5,328.0 L278.7,327.3 L278.9,326.6 L279.1,325.9 L279.3,325.2 L279.6,324.5 L279.8,323.9 L280.0,323.2 L280.2,322.5 L280.4,321.8 L280.6,321.1 L280.8,320.4 L281.1,319.7 L281.3,319.1 L281.5,318.4 L281.7,317.7 L281.9,317.0 L282.2,316.3 L282.4,315.6 L282.6,315.0 L282.8,314.3 L283.1,313.6 L283.3,312.9 L283.5,312.2 L283.8,311.6 L284.0,310.9 L284.2,310.2 L284.5,309.5 L284.7,308.9 L284.9,308.2 L285.2,307.5 L285.4,306.8 L285.7,306.2 L285.9,305.5 L286.2,304.8 L286.4,304.1 L286.7,303.5 L287.0,302.8 L287.2,302.1 L287.5,301.5 L287.8,300.8 L288.0,300.1 L288.3,299.5 L288.6,298.8 L288.9,298.1 L289.1,297.5 L289.4,296.8 L289.7,296.2 L290.0,295.5" fill="none" stroke="#959595" stroke-width="2.5" stroke-linecap="butt" stroke-linejoin="round"/>
<path d="M116.5,303.2 L117.8,303.6 L119.0,304.0 L120.2,304.4 L121.5,304.8 L122.7,305.3 L123.9,305.7 L125.1,306.2 L126.3,306.7 L127.4,307.2 L128.6,307.8 L129.8,308.3 L130.9,308.9 L132.1,309.5 L133.2,310.1 L134.3,310.7 L135.5,311.3 L136.6,312.0 L137.7,312.6 L138.8,313.3 L139.9,314.0 L140.9,314.7 L142.0,315.4 L143.1,316.2 L144.1,316.9 L145.2,317.6 L146.2,318.4 L147.3,319.2 L148.3,320.0 L149.3,320.8 L150.3,321.6 L151.4,322.4 L152.4,323.2 L153.4,324.0 L154.4,324.9 L155.3,325.7 L156.3,326.6 L157.3,327.4 L158.3,328.3 L159.2,329.2 L160.2,330.1 L161.1,331.0 L162.1,331.9 L163.0,332.8 L164.0,333.7 L164.9,334.6 L165.8,335.5 L166.8,336.4 L167.7,337.3 L168.6,338.2 L169.5,339.2 L170.4,340.1 L171.3,341.0 L172.2,342.0 L173.1,342.9 L174.0,343.8 L174.9,344.8 L175.8,345.7 L176.7,346.6 L177.6,347.6 L178.5,348.5 L179.4,349.4 L180.2,350.4 L181.1,351.3 L182.0,352.2 L182.9,353.2 L183.8,354.1 L184.7,355.0 L185.6,355.9 L186.5,356.8 L187.4,357.8 L188.3,358.7 L189.2,359.6 L190.1,360.5 L191.0,361.4 L192.0,362.3 L192.9,363.2 L193.8,364.0 L194.8,364.9 L195.7,365.8 L196.7,366.6 L197.6,367.5 L198.6,368.3 L199.6,369.2 L200.5,370.0 L201.5,370.8 L202.5,371.7 L203.6,372.5 L204.6,373.3 L205.6,374.0 L206.6,374.8 L207.7,375.6 L208.8,376.3 L209.8,377.1 L210.9,377.8 L212.0,378.6 L213.1,379.3 L214.3,380.0 L215.4,380.7 L216.6,381.3 L217.7,382.0 L218.9,382.6 L220.1,383.3 L221.3,383.9 L222.5,384.5 L223.7,385.0 L225.0,385.6 L226.2,386.1 L227.4,386.5 L228.7,386.9 L229.9,387.3 L231.2,387.7 L232.4,388.0 L233.6,388.2 L234.9,388.4 L236.1,388.6 L237.4,388.7 L238.6,388.7 L239.8,388.7 L241.0,388.6 L242.2,388.5 L243.4,388.2 L244.6,387.9 L245.7,387.6 L246.9,387.1 L248.0,386.6 L249.1,386.1 L250.2,385.4 L251.3,384.8 L252.4,384.0 L253.4,383.2 L254.4,382.4 L255.4,381.5 L256.3,380.6 L257.3,379.6 L258.2,378.6 L259.0,377.6 L259.9,376.6 L260.6,375.5 L261.4,374.4 L262.1,373.3 L262.8,372.1 L263.5,371.0 L264.1,369.8 L264.7,368.7 L265.3,367.5 L265.8,366.3 L266.4,365.1 L266.9,363.9 L267.4,362.7 L267.9,361.5 L268.4,360.3 L268.9,359.1 L269.4,357.9 L269.9,356.7 L270.3,355.5 L270.8,354.3 L271.2,353.1 L271.7,351.9 L272.1,350.6 L272.5,349.4 L272.9,348.2 L273.4,347.0 L273.8,345.8 L274.2,344.5 L274.6,343.3 L275.0,342.1 L275.4,340.8 L275.8,339.6 L276.2,338.4 L276.5,337.2 L276.9,335.9 L277.3,334.7 L277.7,333.5 L278.1,332.2 L278.5,331.0 L278.9,329.8 L279.3,328.6 L279.7,327.3 L280.1,326.1 L280.5,324.9 L280.9,323.7 L281.4,322.5 L281.8,321.2 L282.2,320.0 L282.6,318.8 L283.1,317.6 L283.5,316.4 L284.0,315.2 L284.5,314.0 L284.9,312.8 L285.4,311.6 L285.9,310.4 L286.4,309.2 L286.9,308.0 L287.5,306.8 L288.0,305.6 L288.6,304.4 L289.1,303.3 L289.7,302.1 L290.0,301.5" fill="none" stroke="#111" stroke-width="2.45" stroke-dasharray="5.3,5.2" stroke-linecap="butt" stroke-linejoin="round"/>
<line x1="290.40" y1="232.90" x2="290.40" y2="420.00" stroke="#111" stroke-width="1.6"/>
<line x1="10.10" y1="419.10" x2="290.20" y2="419.10" stroke="#111" stroke-width="1.9"/>
<line x1="290.20" y1="232.90" x2="292.80" y2="232.90" stroke="#111" stroke-width="1.5"/>
<text x="295.20" y="235.30" class="tk">40</text>
<line x1="290.20" y1="259.50" x2="292.80" y2="259.50" stroke="#111" stroke-width="1.5"/>
<text x="295.20" y="261.90" class="tk">20</text>
<line x1="290.20" y1="286.10" x2="292.80" y2="286.10" stroke="#111" stroke-width="1.5"/>
<text x="295.20" y="288.50" class="tk">0</text>
<line x1="290.20" y1="312.70" x2="292.80" y2="312.70" stroke="#111" stroke-width="1.5"/>
<text x="295.20" y="315.10" class="tk">-20</text>
<line x1="290.20" y1="339.30" x2="292.80" y2="339.30" stroke="#111" stroke-width="1.5"/>
<text x="295.20" y="341.70" class="tk">-40</text>
<line x1="290.20" y1="365.90" x2="292.80" y2="365.90" stroke="#111" stroke-width="1.5"/>
<text x="295.20" y="368.30" class="tk">-60</text>
<line x1="290.20" y1="392.50" x2="292.80" y2="392.50" stroke="#111" stroke-width="1.5"/>
<text x="295.20" y="394.90" class="tk">-80</text>
<line x1="290.20" y1="419.10" x2="292.80" y2="419.10" stroke="#111" stroke-width="1.5"/>
<text x="295.20" y="421.50" class="tk">-100</text>
<line x1="11.00" y1="419.10" x2="11.00" y2="421.40" stroke="#111" stroke-width="1.6"/>
<text x="11.00" y="431.00" class="tkx" text-anchor="middle">-1200</text>
<line x1="104.07" y1="419.10" x2="104.07" y2="421.40" stroke="#111" stroke-width="1.6"/>
<text x="104.07" y="431.00" class="tkx" text-anchor="middle">-800</text>
<line x1="197.13" y1="419.10" x2="197.13" y2="421.40" stroke="#111" stroke-width="1.6"/>
<text x="197.13" y="431.00" class="tkx" text-anchor="middle">-400</text>
<line x1="290.20" y1="419.10" x2="290.20" y2="421.40" stroke="#111" stroke-width="1.6"/>
<text x="290.20" y="431.00" class="tkx" text-anchor="middle">0</text>
<text x="150.70" y="449.60" class="xl" text-anchor="middle">Time (ms)</text>
<text transform="translate(329.00,323.92) rotate(-90)" class="yl" text-anchor="middle">Knee Joint Angle&#160;&#160;(Degrees)</text>
<text x="9.60" y="254.60" class="lt">B</text>
<line x1="10.20" y1="515.60" x2="290.20" y2="515.60" stroke="#4a4a4a" stroke-width="1.1"/>
<path d="M56.4,525.9 L57.1,525.9 L57.9,526.0 L58.6,526.0 L59.4,526.0 L60.1,526.1 L60.9,526.1 L61.6,526.1 L62.3,526.2 L63.1,526.2 L63.8,526.3 L64.6,526.4 L65.3,526.4 L66.0,526.5 L66.8,526.6 L67.5,526.6 L68.3,526.7 L69.0,526.8 L69.7,526.9 L70.5,527.0 L71.2,527.1 L71.9,527.1 L72.7,527.2 L73.4,527.3 L74.1,527.5 L74.9,527.6 L75.6,527.7 L76.3,527.8 L77.1,527.9 L77.8,528.0 L78.5,528.2 L79.2,528.3 L80.0,528.5 L80.7,528.6 L81.4,528.7 L82.1,528.9 L82.9,529.1 L83.6,529.2 L84.3,529.4 L85.0,529.5 L85.7,529.7 L86.4,529.9 L87.2,530.1 L87.9,530.3 L88.6,530.5 L89.3,530.6 L90.0,530.8 L90.7,531.1 L91.4,531.3 L92.1,531.5 L92.8,531.7 L93.5,531.9 L94.2,532.1 L95.0,532.4 L95.7,532.6 L96.4,532.9 L97.0,533.1 L97.7,533.3 L98.4,533.6 L99.1,533.9 L99.8,534.1 L100.5,534.4 L101.2,534.6 L101.9,534.9 L102.6,535.1 L103.3,535.4 L104.0,535.6 L104.7,535.9 L105.4,536.1 L106.1,536.4 L106.8,536.6 L107.5,536.9 L108.2,537.1 L108.9,537.4 L109.6,537.6 L110.3,537.9 L111.0,538.1 L111.7,538.4 L112.4,538.6 L113.1,538.9 L113.8,539.1 L114.5,539.3 L115.2,539.6 L115.9,539.8 L116.5,540.1 L117.2,540.3 L117.9,540.6 L118.6,540.8 L119.3,541.1 L120.0,541.3 L120.7,541.5 L121.4,541.8 L122.1,542.0 L122.8,542.3 L123.5,542.5 L124.2,542.7 L124.9,543.0 L125.6,543.2 L126.3,543.5 L127.0,543.7 L127.7,543.9 L128.4,544.2 L129.1,544.4 L129.8,544.6 L130.5,544.9 L131.2,545.1 L131.9,545.3 L132.6,545.6 L133.3,545.8 L134.0,546.0 L134.8,546.2 L135.5,546.5 L136.2,546.7 L136.9,546.9 L137.6,547.1 L138.3,547.4 L139.0,547.6 L139.7,547.8 L140.4,548.0 L141.1,548.2 L141.8,548.5 L142.5,548.7 L143.2,548.9 L143.9,549.1 L144.6,549.3 L145.3,549.5 L146.0,549.7 L146.7,549.9 L147.5,550.2 L148.2,550.4 L148.9,550.6 L149.6,550.8 L150.3,551.0 L151.0,551.2 L151.7,551.4 L152.4,551.6 L153.1,551.8 L153.9,552.0 L154.6,552.2 L155.3,552.3 L156.0,552.5 L156.7,552.7 L157.4,552.9 L158.1,553.1 L158.9,553.3 L159.6,553.5 L160.3,553.7 L161.0,553.8 L161.7,554.0 L162.4,554.2 L163.2,554.4 L163.9,554.6 L164.6,554.7 L165.3,554.9 L166.0,555.1 L166.8,555.2 L167.5,555.4 L168.2,555.6 L168.9,555.7 L169.6,555.9 L170.4,556.1 L171.1,556.2 L171.8,556.4 L172.5,556.5 L173.3,556.7 L174.0,556.8 L174.7,557.0 L175.5,557.1 L176.2,557.3 L176.9,557.4 L177.6,557.6 L178.4,557.7 L179.1,557.8 L179.8,558.0 L180.5,558.1 L181.3,558.3 L182.0,558.4 L182.7,558.5 L183.5,558.7 L184.2,558.8 L184.9,558.9 L185.7,559.0 L186.4,559.2 L187.1,559.3 L187.9,559.4 L188.6,559.5 L189.3,559.6 L190.1,559.8 L190.8,559.9 L191.5,560.0 L192.3,560.1 L193.0,560.2 L193.7,560.3 L194.5,560.4 L195.2,560.5 L195.9,560.6 L196.7,560.7 L197.4,560.8 L198.1,560.9 L198.9,561.0 L199.6,561.1 L200.3,561.2 L201.1,561.3 L201.8,561.4 L202.5,561.5 L203.3,561.6 L204.0,561.7 L204.8,561.7 L205.5,561.8 L206.2,561.9 L207.0,562.0 L207.7,562.1 L208.4,562.1 L209.2,562.2 L209.9,562.3 L210.6,562.4 L211.4,562.4 L212.1,562.5 L212.9,562.6 L213.6,562.6 L214.3,562.7 L215.1,562.8 L215.8,562.8 L216.5,562.9 L217.3,562.9 L218.0,563.0 L218.8,563.1 L219.5,563.1 L220.2,563.2 L221.0,563.2 L221.7,563.3 L222.4,563.3 L223.2,563.3 L223.9,563.4 L224.6,563.4 L225.4,563.4 L226.1,563.5 L226.8,563.5 L227.6,563.5 L228.3,563.5 L229.0,563.5 L229.8,563.5 L230.5,563.5 L231.2,563.4 L232.0,563.4 L232.7,563.3 L233.4,563.3 L234.1,563.2 L234.9,563.1 L235.6,563.0 L236.3,562.9 L237.0,562.8 L237.8,562.6 L238.5,562.5 L239.2,562.3 L239.9,562.2 L240.6,562.0 L241.3,561.8 L242.1,561.6 L242.8,561.3 L243.5,561.1 L244.2,560.9 L244.9,560.6 L245.6,560.3 L246.3,560.1 L247.0,559.8 L247.6,559.5 L248.3,559.2 L249.0,558.8 L249.7,558.5 L250.4,558.2 L251.0,557.8 L251.7,557.4 L252.3,557.1 L253.0,556.7 L253.6,556.3 L254.3,555.9 L254.9,555.5 L255.5,555.1 L256.1,554.6 L256.7,554.2 L257.3,553.7 L257.9,553.3 L258.5,552.8 L259.1,552.3 L259.6,551.8 L260.2,551.4 L260.7,550.9 L261.3,550.3 L261.8,549.8 L262.3,549.3 L262.8,548.8 L263.3,548.2 L263.8,547.7 L264.3,547.1 L264.7,546.5 L265.2,546.0 L265.6,545.4 L266.1,544.8 L266.5,544.2 L266.9,543.6 L267.3,543.0 L267.7,542.4 L268.1,541.7 L268.4,541.1 L268.8,540.5 L269.2,539.8 L269.5,539.2 L269.8,538.6 L270.2,537.9 L270.5,537.2 L270.8,536.6 L271.1,535.9 L271.4,535.2 L271.7,534.6 L272.0,533.9 L272.3,533.2 L272.6,532.5 L272.8,531.8 L273.1,531.1 L273.4,530.4 L273.6,529.7 L273.9,529.0 L274.1,528.3 L274.4,527.6 L274.6,526.9 L274.8,526.2 L275.1,525.5 L275.3,524.8 L275.5,524.1 L275.7,523.4 L276.0,522.7 L276.2,522.0 L276.4,521.3 L276.6,520.5 L276.8,519.8 L277.0,519.1 L277.2,518.4 L277.4,517.7 L277.6,517.0 L277.8,516.2 L278.0,515.5 L278.2,514.8 L278.4,514.1 L278.6,513.4 L278.8,512.7 L279.0,511.9 L279.1,511.2 L279.3,510.5 L279.5,509.8 L279.7,509.1 L279.9,508.4 L280.1,507.6 L280.3,506.9 L280.4,506.2 L280.6,505.5 L280.8,504.8 L281.0,504.1 L281.2,503.3 L281.4,502.6 L281.5,501.9 L281.7,501.2 L281.9,500.5 L282.1,499.8 L282.3,499.1 L282.5,498.3 L282.7,497.6 L282.9,496.9 L283.0,496.2 L283.2,495.5 L283.4,494.8 L283.6,494.1 L283.8,493.4 L284.0,492.6 L284.2,491.9 L284.4,491.2 L284.6,490.5 L284.8,489.8 L285.1,489.1 L285.3,488.4 L285.5,487.7 L285.7,487.0 L285.9,486.3 L286.1,485.6 L286.4,484.9 L286.6,484.2 L286.8,483.5 L287.1,482.8 L287.3,482.1 L287.5,481.4 L287.8,480.7 L288.0,480.0 L288.3,479.3 L288.6,478.6 L288.8,477.9 L289.1,477.2 L289.4,476.6 L289.6,475.9 L289.9,475.2 L290.2,474.5" fill="none" stroke="#0a0a0a" stroke-width="2.5" stroke-linecap="butt" stroke-linejoin="round"/>
<path d="M87.1,525.5 L88.4,525.6 L89.8,525.7 L91.1,525.9 L92.4,526.0 L93.8,526.2 L95.1,526.4 L96.4,526.6 L97.7,526.8 L99.0,527.0 L100.3,527.3 L101.6,527.5 L102.9,527.8 L104.2,528.0 L105.5,528.3 L106.8,528.6 L108.1,529.0 L109.4,529.3 L110.7,529.6 L112.0,530.0 L113.3,530.3 L114.5,530.7 L115.8,531.0 L117.1,531.4 L118.4,531.8 L119.6,532.2 L120.9,532.6 L122.2,533.0 L123.4,533.4 L124.7,533.9 L126.0,534.3 L127.2,534.7 L128.5,535.2 L129.8,535.6 L131.0,536.1 L132.3,536.5 L133.5,537.0 L134.8,537.4 L136.0,537.9 L137.3,538.4 L138.6,538.8 L139.8,539.3 L141.1,539.8 L142.3,540.3 L143.6,540.7 L144.8,541.2 L146.1,541.7 L147.3,542.2 L148.6,542.7 L149.8,543.1 L151.1,543.6 L152.3,544.1 L153.6,544.5 L154.8,545.0 L156.1,545.5 L157.3,545.9 L158.6,546.4 L159.9,546.9 L161.1,547.3 L162.4,547.8 L163.6,548.2 L164.9,548.6 L166.2,549.1 L167.4,549.5 L168.7,549.9 L170.0,550.3 L171.2,550.7 L172.5,551.2 L173.8,551.5 L175.0,551.9 L176.3,552.3 L177.6,552.7 L178.9,553.1 L180.1,553.5 L181.4,553.8 L182.7,554.2 L184.0,554.5 L185.3,554.9 L186.5,555.2 L187.8,555.5 L189.1,555.9 L190.4,556.2 L191.7,556.5 L193.0,556.8 L194.3,557.1 L195.6,557.4 L196.9,557.7 L198.2,558.0 L199.5,558.3 L200.8,558.6 L202.1,558.8 L203.4,559.1 L204.7,559.4 L206.0,559.6 L207.3,559.9 L208.6,560.1 L210.0,560.3 L211.3,560.6 L212.6,560.8 L213.9,561.0 L215.3,561.2 L216.6,561.4 L217.9,561.6 L219.2,561.8 L220.6,562.0 L221.9,562.2 L223.3,562.4 L224.6,562.5 L225.9,562.7 L227.3,562.8 L228.6,562.9 L230.0,563.0 L231.3,563.0 L232.6,563.1 L234.0,563.1 L235.3,563.1 L236.6,563.0 L237.9,562.9 L239.2,562.8 L240.6,562.6 L241.9,562.3 L243.2,562.1 L244.5,561.8 L245.7,561.4 L247.0,561.0 L248.3,560.6 L249.5,560.1 L250.7,559.6 L251.9,559.0 L253.1,558.4 L254.3,557.7 L255.4,557.1 L256.6,556.4 L257.7,555.6 L258.8,554.8 L259.8,554.0 L260.8,553.1 L261.8,552.3 L262.8,551.3 L263.7,550.4 L264.6,549.4 L265.5,548.4 L266.3,547.4 L267.1,546.3 L267.9,545.2 L268.6,544.1 L269.3,543.0 L269.9,541.8 L270.6,540.6 L271.2,539.4 L271.7,538.2 L272.3,537.0 L272.8,535.8 L273.3,534.5 L273.8,533.3 L274.3,532.0 L274.7,530.7 L275.2,529.5 L275.6,528.2 L276.0,526.9 L276.4,525.6 L276.8,524.3 L277.1,523.0 L277.5,521.8 L277.8,520.5 L278.2,519.2 L278.5,517.9 L278.8,516.6 L279.1,515.3 L279.4,514.0 L279.7,512.7 L280.0,511.4 L280.3,510.1 L280.6,508.8 L280.9,507.5 L281.2,506.2 L281.5,504.9 L281.8,503.6 L282.1,502.3 L282.4,501.0 L282.7,499.7 L283.0,498.4 L283.3,497.1 L283.7,495.8 L284.0,494.5 L284.3,493.2 L284.7,491.9 L285.0,490.6 L285.4,489.3 L285.7,488.1 L286.1,486.8 L286.5,485.5 L286.9,484.2 L287.3,483.0 L287.7,481.7 L288.1,480.4 L288.6,479.2 L289.0,477.9 L289.5,476.7 L290.0,475.4 L290.2,474.8" fill="none" stroke="#444" stroke-width="2.45" stroke-linecap="butt" stroke-linejoin="round"/>
<path d="M98.8,524.8 L100.1,525.0 L101.3,525.3 L102.6,525.5 L103.8,525.8 L105.1,526.0 L106.3,526.3 L107.6,526.5 L108.8,526.8 L110.1,527.1 L111.3,527.3 L112.6,527.6 L113.8,527.9 L115.1,528.2 L116.3,528.5 L117.6,528.8 L118.8,529.1 L120.0,529.4 L121.3,529.7 L122.5,530.1 L123.8,530.4 L125.0,530.7 L126.2,531.1 L127.4,531.4 L128.7,531.8 L129.9,532.1 L131.1,532.5 L132.3,532.9 L133.6,533.3 L134.8,533.7 L136.0,534.1 L137.2,534.5 L138.4,534.9 L139.6,535.3 L140.8,535.8 L142.0,536.2 L143.2,536.6 L144.4,537.1 L145.6,537.5 L146.8,538.0 L148.0,538.5 L149.2,538.9 L150.4,539.4 L151.6,539.9 L152.8,540.3 L154.0,540.8 L155.2,541.3 L156.4,541.8 L157.6,542.2 L158.8,542.7 L159.9,543.2 L161.1,543.7 L162.3,544.1 L163.5,544.6 L164.7,545.0 L165.9,545.5 L167.1,545.9 L168.3,546.4 L169.5,546.8 L170.7,547.2 L171.9,547.6 L173.1,548.1 L174.3,548.5 L175.5,548.9 L176.7,549.3 L178.0,549.7 L179.2,550.1 L180.4,550.5 L181.6,550.8 L182.8,551.2 L184.0,551.6 L185.3,552.0 L186.5,552.3 L187.7,552.7 L188.9,553.0 L190.1,553.4 L191.4,553.7 L192.6,554.1 L193.8,554.4 L195.1,554.7 L196.3,555.1 L197.5,555.4 L198.8,555.7 L200.0,556.0 L201.3,556.4 L202.5,556.7 L203.7,557.0 L205.0,557.3 L206.2,557.6 L207.5,557.9 L208.7,558.2 L210.0,558.4 L211.2,558.7 L212.5,559.0 L213.8,559.3 L215.0,559.6 L216.3,559.8 L217.5,560.1 L218.8,560.4 L220.1,560.6 L221.3,560.9 L222.6,561.1 L223.9,561.4 L225.2,561.6 L226.4,561.8 L227.7,562.0 L229.0,562.2 L230.3,562.4 L231.5,562.5 L232.8,562.6 L234.1,562.7 L235.3,562.8 L236.6,562.8 L237.9,562.8 L239.1,562.7 L240.4,562.6 L241.6,562.5 L242.9,562.3 L244.2,562.1 L245.4,561.8 L246.6,561.5 L247.8,561.1 L249.1,560.7 L250.3,560.3 L251.4,559.8 L252.6,559.3 L253.8,558.7 L254.9,558.1 L256.0,557.5 L257.1,556.8 L258.2,556.1 L259.2,555.4 L260.3,554.6 L261.3,553.8 L262.2,553.0 L263.2,552.1 L264.1,551.2 L265.0,550.3 L265.8,549.3 L266.6,548.3 L267.4,547.3 L268.1,546.3 L268.8,545.2 L269.5,544.1 L270.1,543.0 L270.7,541.9 L271.3,540.8 L271.9,539.6 L272.4,538.4 L272.9,537.3 L273.4,536.1 L273.9,534.9 L274.3,533.6 L274.7,532.4 L275.1,531.2 L275.5,530.0 L275.9,528.7 L276.3,527.5 L276.7,526.3 L277.0,525.0 L277.4,523.8 L277.7,522.6 L278.0,521.3 L278.3,520.1 L278.6,518.8 L278.9,517.6 L279.2,516.4 L279.5,515.1 L279.8,513.9 L280.1,512.6 L280.4,511.4 L280.7,510.1 L280.9,508.9 L281.2,507.6 L281.5,506.4 L281.8,505.1 L282.1,503.9 L282.3,502.7 L282.6,501.4 L282.9,500.2 L283.2,498.9 L283.5,497.7 L283.8,496.4 L284.1,495.2 L284.4,494.0 L284.8,492.7 L285.1,491.5 L285.4,490.3 L285.7,489.0 L286.1,487.8 L286.4,486.6 L286.8,485.3 L287.2,484.1 L287.5,482.9 L287.9,481.7 L288.3,480.4 L288.7,479.2 L289.1,478.0 L289.5,476.8 L290.0,475.6 L290.2,475.0" fill="none" stroke="#959595" stroke-width="2.5" stroke-linecap="butt" stroke-linejoin="round"/>
<path d="M117.0,526.0 L118.2,526.2 L119.3,526.3 L120.5,526.4 L121.7,526.6 L122.8,526.7 L124.0,526.9 L125.1,527.1 L126.3,527.2 L127.5,527.4 L128.6,527.6 L129.8,527.7 L130.9,527.9 L132.1,528.1 L133.2,528.3 L134.3,528.5 L135.5,528.8 L136.6,529.0 L137.8,529.2 L138.9,529.5 L140.0,529.8 L141.2,530.1 L142.3,530.4 L143.4,530.7 L144.5,531.0 L145.7,531.4 L146.8,531.7 L147.9,532.1 L149.0,532.4 L150.1,532.8 L151.2,533.2 L152.3,533.6 L153.5,534.0 L154.6,534.4 L155.7,534.8 L156.8,535.2 L157.9,535.7 L159.0,536.1 L160.1,536.5 L161.2,537.0 L162.3,537.4 L163.4,537.8 L164.4,538.3 L165.5,538.7 L166.6,539.2 L167.7,539.6 L168.8,540.1 L169.9,540.5 L171.0,540.9 L172.1,541.4 L173.2,541.8 L174.2,542.2 L175.3,542.7 L176.4,543.1 L177.5,543.5 L178.6,544.0 L179.7,544.4 L180.7,544.8 L181.8,545.2 L182.9,545.6 L184.0,546.0 L185.1,546.5 L186.2,546.9 L187.3,547.3 L188.3,547.7 L189.4,548.1 L190.5,548.5 L191.6,548.8 L192.7,549.2 L193.8,549.6 L194.9,550.0 L196.0,550.4 L197.1,550.7 L198.2,551.1 L199.3,551.5 L200.4,551.8 L201.5,552.2 L202.6,552.5 L203.7,552.9 L204.8,553.2 L205.9,553.5 L207.0,553.9 L208.2,554.2 L209.3,554.5 L210.4,554.8 L211.5,555.1 L212.7,555.4 L213.8,555.7 L214.9,556.0 L216.1,556.3 L217.2,556.6 L218.4,556.9 L219.5,557.2 L220.7,557.4 L221.8,557.7 L223.0,557.9 L224.2,558.2 L225.3,558.4 L226.5,558.6 L227.7,558.9 L228.9,559.1 L230.0,559.3 L231.2,559.5 L232.4,559.7 L233.6,559.9 L234.8,560.0 L236.0,560.2 L237.2,560.3 L238.4,560.5 L239.6,560.6 L240.8,560.6 L242.0,560.7 L243.2,560.7 L244.3,560.7 L245.5,560.7 L246.7,560.6 L247.8,560.6 L248.9,560.4 L250.1,560.3 L251.2,560.1 L252.3,559.9 L253.4,559.6 L254.5,559.3 L255.5,559.0 L256.6,558.6 L257.6,558.2 L258.6,557.7 L259.6,557.1 L260.6,556.6 L261.5,555.9 L262.5,555.3 L263.4,554.5 L264.3,553.8 L265.1,553.0 L266.0,552.2 L266.8,551.3 L267.5,550.4 L268.3,549.5 L269.0,548.5 L269.7,547.5 L270.3,546.5 L271.0,545.5 L271.5,544.4 L272.1,543.4 L272.6,542.3 L273.0,541.2 L273.5,540.1 L273.9,539.0 L274.2,537.9 L274.6,536.7 L274.9,535.6 L275.2,534.5 L275.5,533.3 L275.8,532.2 L276.1,531.1 L276.4,529.9 L276.7,528.8 L277.0,527.7 L277.3,526.5 L277.6,525.4 L277.9,524.3 L278.2,523.1 L278.5,522.0 L278.8,520.9 L279.1,519.7 L279.3,518.6 L279.6,517.5 L279.9,516.4 L280.2,515.2 L280.5,514.1 L280.8,513.0 L281.1,511.8 L281.4,510.7 L281.7,509.6 L281.9,508.5 L282.2,507.3 L282.5,506.2 L282.8,505.0 L283.0,503.9 L283.3,502.8 L283.6,501.6 L283.8,500.5 L284.1,499.3 L284.3,498.2 L284.6,497.0 L284.9,495.9 L285.1,494.7 L285.4,493.6 L285.7,492.4 L286.0,491.3 L286.3,490.2 L286.6,489.1 L286.9,487.9 L287.3,486.8 L287.6,485.7 L288.0,484.6 L288.4,483.6 L288.9,482.5 L289.3,481.4 L289.8,480.4 L290.1,479.9" fill="none" stroke="#111" stroke-width="2.45" stroke-dasharray="5.3,5.2" stroke-dashoffset="0.6" stroke-linecap="butt" stroke-linejoin="round"/>
<line x1="290.40" y1="462.00" x2="290.40" y2="649.10" stroke="#111" stroke-width="1.6"/>
<line x1="10.10" y1="648.20" x2="290.20" y2="648.20" stroke="#111" stroke-width="1.9"/>
<line x1="290.20" y1="462.00" x2="292.80" y2="462.00" stroke="#111" stroke-width="1.5"/>
<text x="295.20" y="464.40" class="tk">40</text>
<line x1="290.20" y1="488.60" x2="292.80" y2="488.60" stroke="#111" stroke-width="1.5"/>
<text x="295.20" y="491.00" class="tk">20</text>
<line x1="290.20" y1="515.20" x2="292.80" y2="515.20" stroke="#111" stroke-width="1.5"/>
<text x="295.20" y="517.60" class="tk">0</text>
<line x1="290.20" y1="541.80" x2="292.80" y2="541.80" stroke="#111" stroke-width="1.5"/>
<text x="295.20" y="544.20" class="tk">-20</text>
<line x1="290.20" y1="568.40" x2="292.80" y2="568.40" stroke="#111" stroke-width="1.5"/>
<text x="295.20" y="570.80" class="tk">-40</text>
<line x1="290.20" y1="595.00" x2="292.80" y2="595.00" stroke="#111" stroke-width="1.5"/>
<text x="295.20" y="597.40" class="tk">-60</text>
<line x1="290.20" y1="621.60" x2="292.80" y2="621.60" stroke="#111" stroke-width="1.5"/>
<text x="295.20" y="624.00" class="tk">-80</text>
<line x1="290.20" y1="648.20" x2="292.80" y2="648.20" stroke="#111" stroke-width="1.5"/>
<text x="295.20" y="650.60" class="tk">-100</text>
<line x1="11.00" y1="648.20" x2="11.00" y2="650.50" stroke="#111" stroke-width="1.6"/>
<text x="11.00" y="660.10" class="tkx" text-anchor="middle">-1200</text>
<line x1="104.07" y1="648.20" x2="104.07" y2="650.50" stroke="#111" stroke-width="1.6"/>
<text x="104.07" y="660.10" class="tkx" text-anchor="middle">-800</text>
<line x1="197.13" y1="648.20" x2="197.13" y2="650.50" stroke="#111" stroke-width="1.6"/>
<text x="197.13" y="660.10" class="tkx" text-anchor="middle">-400</text>
<line x1="290.20" y1="648.20" x2="290.20" y2="650.50" stroke="#111" stroke-width="1.6"/>
<text x="290.20" y="660.10" class="tkx" text-anchor="middle">0</text>
<text x="150.70" y="678.70" class="xl" text-anchor="middle">Time (ms)</text>
<text transform="translate(329.00,552.34) rotate(-90)" class="yl" text-anchor="middle">Ankle Joint Angle&#160;&#160;(Degrees)</text>
<text x="9.60" y="483.70" class="lt">C</text>
<line x1="339.20" y1="57.40" x2="619.20" y2="57.40" stroke="#4a4a4a" stroke-width="1.1"/>
<path d="M426.7,76.8 L427.4,77.0 L428.1,77.1 L428.8,77.3 L429.5,77.5 L430.1,77.7 L430.8,77.9 L431.5,78.1 L432.2,78.3 L433.5,78.8 L434.8,79.2 L436.1,79.7 L437.4,80.2 L438.6,80.8 L439.9,81.3 L441.1,81.9 L442.4,82.5 L443.6,83.1 L444.8,83.8 L446.0,84.4 L447.2,85.1 L448.3,85.8 L449.5,86.5 L450.6,87.2 L451.8,88.0 L452.9,88.7 L454.0,89.5 L455.1,90.3 L456.2,91.1 L457.3,91.9 L458.3,92.8 L459.4,93.6 L460.5,94.5 L461.5,95.3 L462.5,96.2 L463.6,97.1 L464.6,98.0 L465.6,99.0 L466.6,99.9 L467.6,100.8 L468.6,101.8 L469.6,102.8 L470.6,103.7 L471.5,104.7 L472.5,105.7 L473.4,106.7 L474.4,107.7 L475.3,108.7 L476.3,109.7 L477.2,110.8 L478.2,111.8 L479.1,112.8 L480.0,113.9 L480.9,114.9 L481.8,116.0 L482.8,117.0 L483.7,118.1 L484.6,119.1 L485.5,120.2 L486.4,121.3 L487.3,122.3 L488.2,123.4 L489.1,124.4 L490.0,125.5 L490.9,126.6 L491.8,127.6 L492.7,128.7 L493.5,129.7 L494.4,130.8 L495.3,131.8 L496.2,132.9 L497.1,133.9 L498.0,135.0 L498.9,136.0 L499.8,137.1 L500.8,138.1 L501.7,139.1 L502.6,140.1 L503.5,141.1 L504.4,142.1 L505.4,143.1 L506.3,144.1 L507.3,145.1 L508.2,146.1 L509.2,147.0 L510.2,148.0 L511.2,148.9 L512.1,149.9 L513.1,150.8 L514.2,151.7 L515.2,152.6 L516.2,153.5 L517.2,154.4 L518.3,155.2 L519.4,156.1 L520.4,156.9 L521.5,157.7 L522.6,158.6 L523.8,159.4 L524.9,160.1 L526.0,160.9 L527.2,161.6 L528.4,162.4 L529.6,163.1 L530.8,163.8 L531.4,164.1 L532.0,164.5 L532.6,164.8 L533.3,165.1 L533.9,165.5 L534.5,165.8 L535.2,166.1 L535.8,166.4 L536.4,166.7 L537.1,167.0 L537.7,167.2 L538.4,167.5 L539.1,167.8 L539.7,168.0 L540.4,168.2 L541.0,168.5 L542.4,168.8 L543.7,169.2 L545.1,169.4 L546.5,169.6 L547.8,169.7 L549.2,169.7 L550.6,169.6 L552.0,169.4 L553.3,169.2 L554.7,168.9 L556.1,168.5 L557.4,168.1 L558.7,167.7 L560.0,167.2 L561.3,166.6 L562.5,166.0 L563.7,165.4 L564.9,164.8 L566.1,164.1 L567.2,163.4 L568.3,162.6 L569.4,161.8 L570.5,161.0 L571.5,160.2 L572.6,159.3 L573.6,158.4 L574.6,157.5 L575.5,156.6 L576.5,155.6 L577.4,154.6 L578.3,153.6 L579.2,152.6 L580.1,151.5 L581.0,150.4 L581.8,149.4 L582.7,148.3 L583.5,147.1 L584.3,146.0 L585.1,144.9 L585.9,143.7 L586.3,143.1 L586.6,142.5 L587.0,141.9 L587.4,141.3 L587.8,140.7 L588.2,140.2 L588.5,139.6 L588.9,139.0 L589.3,138.4 L589.6,137.7 L590.0,137.1 L590.3,136.5 L590.7,135.9 L591.1,135.3 L591.4,134.7 L591.8,134.1 L592.1,133.5 L592.5,132.9 L592.8,132.3 L593.2,131.7 L593.5,131.0 L593.8,130.4 L594.2,129.8 L594.9,128.6 L595.5,127.4 L596.2,126.1 L596.9,124.9 L597.5,123.7 L598.2,122.5 L598.8,121.3 L599.5,120.1 L600.1,118.9 L600.7,117.7 L601.4,116.5 L602.0,115.3 L602.7,114.0 L603.3,112.8 L603.9,111.6 L604.5,110.4 L605.1,109.2 L605.8,108.0 L606.4,106.8 L607.0,105.6 L607.6,104.4 L608.2,103.2 L608.8,102.0 L609.4,100.8 L610.0,99.5 L610.6,98.3 L611.2,97.1 L611.8,95.9 L612.4,94.6 L613.0,93.4 L613.6,92.2 L614.2,90.9 L614.8,89.7 L615.4,88.4 L616.0,87.2 L616.6,85.9 L617.2,84.6 L617.5,84.0 L617.8,83.4 L618.1,82.7 L618.4,82.1 L618.7,81.4 L619.0,80.8" fill="none" stroke="#0a0a0a" stroke-width="2.5" stroke-linecap="butt" stroke-linejoin="round"/>
<path d="M441.0,75.2 L442.2,75.7 L443.3,76.1 L444.5,76.6 L445.6,77.1 L446.8,77.6 L447.9,78.1 L449.0,78.7 L450.2,79.2 L451.3,79.7 L452.4,80.3 L453.5,80.8 L454.6,81.4 L455.7,82.0 L456.8,82.5 L457.8,83.1 L458.9,83.7 L460.0,84.3 L461.0,85.0 L462.1,85.6 L463.1,86.2 L464.2,86.8 L465.2,87.5 L466.2,88.2 L467.3,88.8 L468.3,89.5 L469.3,90.2 L470.3,90.9 L471.3,91.6 L472.3,92.3 L473.3,93.0 L474.3,93.7 L475.3,94.4 L476.2,95.2 L477.2,95.9 L478.2,96.6 L479.1,97.4 L480.1,98.2 L481.0,98.9 L481.9,99.7 L482.9,100.5 L483.8,101.3 L484.7,102.1 L485.7,102.9 L486.6,103.8 L487.5,104.6 L488.4,105.4 L489.3,106.3 L490.2,107.1 L491.1,108.0 L491.9,108.8 L492.8,109.7 L493.7,110.6 L494.6,111.4 L495.4,112.3 L496.3,113.2 L497.1,114.1 L498.0,115.0 L498.8,116.0 L499.7,116.9 L500.5,117.8 L501.3,118.7 L502.2,119.6 L503.0,120.6 L503.8,121.5 L504.7,122.4 L505.5,123.4 L506.3,124.3 L507.2,125.2 L508.0,126.2 L508.9,127.1 L509.7,128.0 L510.5,128.9 L511.4,129.8 L512.2,130.7 L513.1,131.6 L513.9,132.5 L514.8,133.4 L515.7,134.3 L516.6,135.2 L517.4,136.1 L518.3,136.9 L519.2,137.8 L520.1,138.6 L521.1,139.4 L522.0,140.3 L522.9,141.1 L523.9,141.9 L524.8,142.6 L525.8,143.4 L526.7,144.1 L527.7,144.9 L528.7,145.6 L529.7,146.3 L530.8,147.0 L531.8,147.7 L532.8,148.3 L533.9,148.9 L535.0,149.6 L536.1,150.1 L537.2,150.7 L538.3,151.3 L539.5,151.8 L540.6,152.3 L541.8,152.7 L542.9,153.2 L544.1,153.6 L545.3,154.0 L546.5,154.3 L547.6,154.6 L548.8,154.8 L550.0,155.0 L551.2,155.2 L552.4,155.3 L553.6,155.4 L554.8,155.4 L556.0,155.4 L557.2,155.3 L558.4,155.2 L559.5,155.1 L560.7,154.8 L561.9,154.6 L563.0,154.3 L564.2,153.9 L565.3,153.5 L566.4,153.1 L567.5,152.6 L568.6,152.1 L569.7,151.6 L570.8,151.0 L571.9,150.4 L572.9,149.7 L573.9,149.1 L574.9,148.3 L575.9,147.6 L576.9,146.8 L577.9,146.0 L578.8,145.2 L579.7,144.4 L580.6,143.5 L581.5,142.6 L582.3,141.7 L583.2,140.8 L584.0,139.8 L584.8,138.9 L585.6,137.9 L586.4,136.9 L587.1,135.9 L587.8,134.8 L588.6,133.8 L589.3,132.8 L590.0,131.7 L590.7,130.6 L591.3,129.6 L592.0,128.5 L592.6,127.4 L593.3,126.4 L593.9,125.3 L594.5,124.2 L595.1,123.1 L595.7,122.0 L596.3,120.9 L596.9,119.9 L597.5,118.8 L598.0,117.7 L598.6,116.6 L599.1,115.5 L599.7,114.4 L600.2,113.3 L600.8,112.2 L601.3,111.1 L601.9,110.0 L602.4,108.9 L603.0,107.8 L603.5,106.7 L604.0,105.6 L604.6,104.5 L605.1,103.4 L605.7,102.3 L606.2,101.2 L606.8,100.2 L607.3,99.1 L607.9,98.0 L608.4,96.9 L609.0,95.8 L609.6,94.7 L610.2,93.7 L610.7,92.6 L611.3,91.5 L611.9,90.5 L612.6,89.4 L613.2,88.3 L613.8,87.3 L614.5,86.2 L615.1,85.2 L615.8,84.1 L616.5,83.1 L617.2,82.1 L617.9,81.0 L618.6,80.0 L619.0,79.5" fill="none" stroke="#444" stroke-width="2.45" stroke-linecap="butt" stroke-linejoin="round"/>
<path d="M439.4,77.5 L440.6,77.8 L441.7,78.2 L442.9,78.6 L444.0,79.0 L445.2,79.4 L446.3,79.8 L447.4,80.2 L448.5,80.6 L449.6,81.1 L450.7,81.6 L451.8,82.1 L452.9,82.6 L453.9,83.1 L455.0,83.6 L456.1,84.1 L457.1,84.7 L458.2,85.2 L459.2,85.8 L460.2,86.4 L461.3,87.0 L462.3,87.6 L463.3,88.2 L464.3,88.8 L465.3,89.4 L466.3,90.1 L467.3,90.7 L468.3,91.4 L469.3,92.0 L470.2,92.7 L471.2,93.4 L472.2,94.1 L473.1,94.8 L474.1,95.5 L475.0,96.2 L476.0,96.9 L476.9,97.6 L477.9,98.3 L478.8,99.1 L479.7,99.8 L480.7,100.6 L481.6,101.3 L482.5,102.1 L483.4,102.8 L484.3,103.6 L485.2,104.4 L486.2,105.2 L487.1,105.9 L488.0,106.7 L488.9,107.5 L489.8,108.3 L490.7,109.1 L491.5,109.9 L492.4,110.7 L493.3,111.4 L494.2,112.2 L495.1,113.0 L496.0,113.8 L496.9,114.6 L497.8,115.4 L498.6,116.2 L499.5,117.0 L500.4,117.8 L501.3,118.6 L502.2,119.4 L503.1,120.2 L503.9,121.0 L504.8,121.8 L505.7,122.6 L506.6,123.4 L507.5,124.1 L508.4,124.9 L509.3,125.7 L510.2,126.5 L511.1,127.2 L512.0,128.0 L513.0,128.7 L513.9,129.5 L514.8,130.2 L515.8,131.0 L516.7,131.7 L517.6,132.4 L518.6,133.2 L519.6,133.9 L520.5,134.6 L521.5,135.3 L522.5,136.0 L523.5,136.6 L524.5,137.3 L525.5,138.0 L526.5,138.6 L527.5,139.3 L528.6,139.9 L529.6,140.5 L530.7,141.1 L531.8,141.7 L532.9,142.3 L533.9,142.9 L535.0,143.5 L536.1,144.0 L537.2,144.5 L538.4,145.0 L539.5,145.5 L540.6,145.9 L541.7,146.4 L542.9,146.8 L544.0,147.2 L545.2,147.5 L546.3,147.8 L547.4,148.1 L548.6,148.4 L549.7,148.6 L550.9,148.8 L552.0,148.9 L553.2,149.0 L554.3,149.1 L555.5,149.1 L556.6,149.1 L557.7,149.0 L558.9,148.9 L560.0,148.8 L561.1,148.6 L562.2,148.4 L563.4,148.1 L564.5,147.8 L565.6,147.4 L566.6,147.1 L567.7,146.6 L568.8,146.2 L569.8,145.7 L570.9,145.1 L571.9,144.6 L573.0,144.0 L574.0,143.4 L575.0,142.7 L575.9,142.0 L576.9,141.3 L577.9,140.6 L578.8,139.8 L579.7,139.1 L580.6,138.3 L581.5,137.4 L582.4,136.6 L583.2,135.7 L584.0,134.8 L584.8,133.9 L585.6,133.0 L586.4,132.1 L587.1,131.1 L587.9,130.2 L588.6,129.2 L589.3,128.2 L590.0,127.2 L590.6,126.2 L591.3,125.2 L591.9,124.2 L592.6,123.1 L593.2,122.1 L593.8,121.1 L594.4,120.0 L595.0,119.0 L595.5,117.9 L596.1,116.8 L596.6,115.8 L597.2,114.7 L597.7,113.7 L598.3,112.6 L598.8,111.5 L599.3,110.5 L599.9,109.4 L600.4,108.3 L600.9,107.3 L601.4,106.2 L602.0,105.1 L602.5,104.1 L603.0,103.0 L603.5,101.9 L604.1,100.9 L604.6,99.8 L605.2,98.8 L605.7,97.8 L606.3,96.7 L606.8,95.7 L607.4,94.7 L608.0,93.6 L608.6,92.6 L609.2,91.6 L609.8,90.6 L610.5,89.6 L611.1,88.6 L611.8,87.6 L612.5,86.7 L613.2,85.7 L613.9,84.8 L614.6,83.8 L615.4,82.9 L616.1,82.0 L616.9,81.0 L617.7,80.1 L618.6,79.2 L619.0,78.8" fill="none" stroke="#959595" stroke-width="2.5" stroke-linecap="butt" stroke-linejoin="round"/>
<path d="M441.5,76.0 L442.6,76.3 L443.7,76.6 L444.7,76.8 L445.8,77.2 L446.9,77.5 L447.9,77.8 L449.0,78.1 L450.1,78.5 L451.1,78.8 L452.2,79.2 L453.2,79.6 L454.3,79.9 L455.3,80.3 L456.4,80.7 L457.4,81.1 L458.4,81.6 L459.5,82.0 L460.5,82.4 L461.5,82.9 L462.6,83.3 L463.6,83.8 L464.6,84.2 L465.6,84.7 L466.6,85.2 L467.6,85.7 L468.6,86.2 L469.6,86.7 L470.6,87.2 L471.6,87.7 L472.6,88.2 L473.6,88.8 L474.6,89.3 L475.6,89.9 L476.5,90.4 L477.5,91.0 L478.5,91.6 L479.5,92.2 L480.4,92.7 L481.4,93.3 L482.3,93.9 L483.3,94.5 L484.2,95.1 L485.2,95.8 L486.1,96.4 L487.0,97.0 L488.0,97.6 L488.9,98.3 L489.8,98.9 L490.7,99.6 L491.6,100.2 L492.5,100.9 L493.4,101.6 L494.3,102.3 L495.2,102.9 L496.1,103.6 L497.0,104.3 L497.9,105.0 L498.8,105.7 L499.6,106.4 L500.5,107.1 L501.4,107.8 L502.3,108.5 L503.1,109.2 L504.0,109.9 L504.9,110.6 L505.7,111.3 L506.6,112.0 L507.5,112.7 L508.3,113.4 L509.2,114.1 L510.1,114.8 L510.9,115.5 L511.8,116.2 L512.7,116.9 L513.6,117.6 L514.4,118.3 L515.3,119.0 L516.2,119.7 L517.1,120.4 L518.0,121.0 L518.9,121.7 L519.8,122.4 L520.7,123.0 L521.6,123.7 L522.5,124.3 L523.4,124.9 L524.4,125.5 L525.3,126.2 L526.2,126.8 L527.2,127.4 L528.1,128.0 L529.1,128.5 L530.1,129.1 L531.1,129.7 L532.0,130.2 L533.0,130.7 L534.0,131.3 L535.1,131.8 L536.1,132.3 L537.1,132.7 L538.2,133.2 L539.2,133.7 L540.3,134.1 L541.3,134.5 L542.4,134.9 L543.5,135.3 L544.6,135.7 L545.7,136.0 L546.8,136.4 L547.9,136.7 L549.0,137.0 L550.1,137.2 L551.2,137.4 L552.3,137.7 L553.4,137.8 L554.5,138.0 L555.6,138.1 L556.7,138.2 L557.8,138.3 L558.9,138.3 L560.0,138.3 L561.1,138.3 L562.2,138.2 L563.2,138.1 L564.3,138.0 L565.4,137.8 L566.4,137.6 L567.5,137.3 L568.5,137.0 L569.6,136.7 L570.6,136.3 L571.6,135.9 L572.6,135.5 L573.6,135.0 L574.6,134.5 L575.5,134.0 L576.5,133.5 L577.4,132.9 L578.4,132.3 L579.3,131.6 L580.2,131.0 L581.1,130.3 L582.0,129.6 L582.9,128.8 L583.7,128.1 L584.6,127.3 L585.4,126.5 L586.2,125.7 L587.1,124.9 L587.8,124.1 L588.6,123.2 L589.4,122.4 L590.1,121.5 L590.9,120.6 L591.6,119.7 L592.3,118.9 L593.0,117.9 L593.6,117.0 L594.3,116.1 L594.9,115.2 L595.6,114.3 L596.2,113.3 L596.8,112.4 L597.4,111.4 L598.0,110.5 L598.6,109.5 L599.2,108.6 L599.7,107.6 L600.3,106.7 L600.9,105.7 L601.5,104.7 L602.0,103.8 L602.6,102.8 L603.1,101.8 L603.7,100.9 L604.3,99.9 L604.8,99.0 L605.4,98.0 L606.0,97.0 L606.5,96.1 L607.1,95.1 L607.7,94.2 L608.3,93.3 L608.9,92.3 L609.5,91.4 L610.1,90.5 L610.7,89.5 L611.4,88.6 L612.0,87.7 L612.6,86.8 L613.3,85.9 L613.9,85.0 L614.6,84.1 L615.3,83.1 L615.9,82.2 L616.6,81.3 L617.3,80.4 L618.0,79.5 L618.7,78.7 L619.0,78.2" fill="none" stroke="#111" stroke-width="2.45" stroke-dasharray="5.3,5.2" stroke-dashoffset="-3.2" stroke-linecap="butt" stroke-linejoin="round"/>
<line x1="619.20" y1="3.80" x2="619.20" y2="190.90" stroke="#111" stroke-width="1.6"/>
<line x1="339.10" y1="190.00" x2="619.20" y2="190.00" stroke="#111" stroke-width="1.9"/>
<line x1="619.20" y1="3.80" x2="621.80" y2="3.80" stroke="#111" stroke-width="1.5"/>
<text x="624.20" y="6.20" class="tk">40</text>
<line x1="619.20" y1="30.40" x2="621.80" y2="30.40" stroke="#111" stroke-width="1.5"/>
<text x="624.20" y="32.80" class="tk">20</text>
<line x1="619.20" y1="57.00" x2="621.80" y2="57.00" stroke="#111" stroke-width="1.5"/>
<text x="624.20" y="59.40" class="tk">0</text>
<line x1="619.20" y1="83.60" x2="621.80" y2="83.60" stroke="#111" stroke-width="1.5"/>
<text x="624.20" y="86.00" class="tk">-20</text>
<line x1="619.20" y1="110.20" x2="621.80" y2="110.20" stroke="#111" stroke-width="1.5"/>
<text x="624.20" y="112.60" class="tk">-40</text>
<line x1="619.20" y1="136.80" x2="621.80" y2="136.80" stroke="#111" stroke-width="1.5"/>
<text x="624.20" y="139.20" class="tk">-60</text>
<line x1="619.20" y1="163.40" x2="621.80" y2="163.40" stroke="#111" stroke-width="1.5"/>
<text x="624.20" y="165.80" class="tk">-80</text>
<line x1="619.20" y1="190.00" x2="621.80" y2="190.00" stroke="#111" stroke-width="1.5"/>
<text x="624.20" y="192.40" class="tk">-100</text>
<line x1="340.00" y1="190.00" x2="340.00" y2="192.30" stroke="#111" stroke-width="1.6"/>
<text x="340.00" y="201.90" class="tkx" text-anchor="middle">-1200</text>
<line x1="433.07" y1="190.00" x2="433.07" y2="192.30" stroke="#111" stroke-width="1.6"/>
<text x="433.07" y="201.90" class="tkx" text-anchor="middle">-800</text>
<line x1="526.13" y1="190.00" x2="526.13" y2="192.30" stroke="#111" stroke-width="1.6"/>
<text x="526.13" y="201.90" class="tkx" text-anchor="middle">-400</text>
<line x1="619.20" y1="190.00" x2="619.20" y2="192.30" stroke="#111" stroke-width="1.6"/>
<text x="619.20" y="201.90" class="tkx" text-anchor="middle">0</text>
<text x="479.70" y="220.50" class="xl" text-anchor="middle">Time (ms)</text>
<text transform="translate(658.00,95.50) rotate(-90)" class="yl" text-anchor="middle">Hip Joint Angle&#160;&#160;(Degrees)</text>
<text x="338.60" y="25.50" class="lt">D</text>
<line x1="345.20" y1="138.70" x2="360.20" y2="138.70" stroke="#111" stroke-width="2.4" stroke-dasharray="5.6,4.1"/>
<text x="368.80" y="141.90" class="lg">Jump Height 1</text>
<line x1="345.20" y1="151.90" x2="360.20" y2="151.90" stroke="#959595" stroke-width="2.5"/>
<text x="368.80" y="155.10" class="lg">Jump Height 2</text>
<line x1="345.20" y1="165.70" x2="360.20" y2="165.70" stroke="#444" stroke-width="2.45"/>
<text x="368.80" y="168.90" class="lg">Jump Height 3</text>
<line x1="345.20" y1="179.10" x2="360.20" y2="179.10" stroke="#0a0a0a" stroke-width="2.5"/>
<text x="368.80" y="182.30" class="lg">Maximal</text>
<line x1="339.20" y1="286.50" x2="619.20" y2="286.50" stroke="#4a4a4a" stroke-width="1.1"/>
<path d="M426.7,304.2 L427.5,304.4 L428.2,304.7 L429.0,304.9 L429.7,305.2 L430.5,305.5 L431.3,305.7 L432.0,306.0 L432.7,306.3 L433.5,306.6 L434.2,306.8 L435.0,307.1 L435.7,307.4 L436.5,307.8 L437.2,308.1 L437.9,308.4 L438.6,308.7 L439.4,309.0 L440.1,309.4 L440.8,309.7 L441.5,310.1 L442.2,310.4 L442.9,310.8 L443.6,311.1 L444.3,311.5 L445.0,311.9 L445.7,312.3 L446.4,312.7 L447.1,313.0 L447.8,313.4 L448.5,313.8 L449.2,314.3 L449.8,314.7 L450.5,315.1 L451.2,315.5 L451.8,316.0 L452.5,316.4 L453.1,316.8 L453.8,317.3 L454.4,317.7 L455.1,318.2 L455.7,318.7 L456.3,319.1 L457.0,319.6 L457.6,320.1 L458.2,320.6 L458.8,321.1 L459.4,321.6 L460.0,322.1 L460.6,322.6 L461.2,323.1 L461.8,323.7 L462.4,324.2 L462.9,324.7 L463.5,325.3 L464.1,325.8 L464.7,326.3 L465.2,326.9 L465.8,327.5 L466.3,328.0 L466.9,328.6 L467.4,329.2 L468.0,329.7 L468.5,330.3 L469.0,330.9 L469.6,331.5 L470.1,332.1 L470.6,332.7 L471.1,333.3 L471.7,333.9 L472.2,334.5 L472.7,335.1 L473.2,335.7 L473.7,336.3 L474.2,336.9 L474.7,337.5 L475.2,338.2 L475.7,338.8 L476.2,339.4 L476.7,340.0 L477.2,340.7 L477.7,341.3 L478.2,341.9 L478.7,342.6 L479.1,343.2 L479.6,343.9 L480.1,344.5 L480.6,345.1 L481.1,345.8 L481.5,346.4 L482.0,347.1 L482.5,347.7 L483.0,348.4 L483.4,349.0 L483.9,349.6 L484.4,350.3 L484.9,350.9 L485.3,351.6 L485.8,352.2 L486.3,352.9 L486.7,353.5 L487.2,354.2 L487.7,354.8 L488.1,355.5 L488.6,356.1 L489.1,356.8 L489.6,357.4 L490.0,358.0 L490.5,358.7 L491.0,359.3 L491.4,360.0 L491.9,360.6 L492.4,361.2 L492.9,361.9 L493.3,362.5 L493.8,363.1 L494.3,363.8 L494.8,364.4 L495.2,365.0 L495.7,365.7 L496.2,366.3 L496.7,366.9 L497.2,367.6 L497.6,368.2 L498.1,368.8 L498.6,369.4 L499.1,370.1 L499.6,370.7 L500.1,371.3 L500.6,371.9 L501.1,372.5 L501.5,373.2 L502.0,373.8 L502.5,374.4 L503.0,375.0 L503.5,375.6 L504.0,376.2 L504.5,376.8 L505.0,377.4 L505.5,378.0 L506.0,378.6 L506.5,379.2 L507.1,379.8 L507.6,380.4 L508.1,381.0 L508.6,381.6 L509.1,382.2 L509.6,382.8 L510.1,383.4 L510.7,384.0 L511.2,384.6 L511.7,385.2 L512.3,385.8 L512.8,386.3 L513.3,386.9 L513.9,387.5 L514.4,388.1 L514.9,388.6 L515.5,389.2 L516.0,389.8 L516.6,390.4 L517.1,390.9 L517.7,391.5 L518.2,392.1 L518.8,392.6 L519.4,393.2 L519.9,393.7 L520.5,394.3 L521.1,394.8 L521.6,395.4 L522.2,395.9 L522.8,396.5 L523.4,397.0 L524.0,397.6 L524.5,398.1 L525.1,398.6 L525.7,399.2 L526.3,399.7 L526.9,400.2 L527.5,400.8 L528.1,401.3 L528.8,401.8 L529.4,402.3 L530.0,402.8 L530.6,403.4 L531.3,403.9 L531.9,404.4 L532.5,404.8 L533.2,405.3 L533.8,405.8 L534.5,406.3 L535.1,406.8 L535.8,407.2 L536.5,407.7 L537.2,408.1 L537.9,408.6 L538.5,409.0 L539.2,409.4 L540.0,409.8 L540.7,410.2 L541.4,410.6 L542.1,411.0 L542.8,411.4 L543.6,411.7 L544.3,412.1 L545.1,412.4 L545.8,412.7 L546.6,413.1 L547.3,413.3 L548.1,413.6 L548.8,413.9 L549.6,414.1 L550.4,414.3 L551.1,414.5 L551.9,414.7 L552.7,414.9 L553.4,415.0 L554.2,415.1 L555.0,415.2 L555.7,415.2 L556.5,415.3 L557.3,415.3 L558.0,415.3 L558.8,415.2 L559.5,415.1 L560.3,415.0 L561.0,414.9 L561.8,414.8 L562.5,414.6 L563.2,414.4 L564.0,414.2 L564.7,414.0 L565.4,413.7 L566.1,413.5 L566.8,413.2 L567.6,412.9 L568.3,412.5 L569.0,412.2 L569.7,411.8 L570.3,411.5 L571.0,411.1 L571.7,410.6 L572.4,410.2 L573.0,409.8 L573.7,409.3 L574.4,408.9 L575.0,408.4 L575.6,407.9 L576.3,407.4 L576.9,406.9 L577.5,406.3 L578.1,405.8 L578.7,405.3 L579.3,404.7 L579.9,404.2 L580.5,403.6 L581.0,403.0 L581.6,402.4 L582.1,401.8 L582.7,401.3 L583.2,400.6 L583.7,400.0 L584.3,399.4 L584.8,398.8 L585.3,398.2 L585.8,397.6 L586.3,396.9 L586.7,396.3 L587.2,395.6 L587.7,395.0 L588.1,394.3 L588.6,393.7 L589.0,393.0 L589.5,392.3 L589.9,391.7 L590.3,391.0 L590.8,390.3 L591.2,389.7 L591.6,389.0 L592.0,388.3 L592.4,387.6 L592.8,386.9 L593.2,386.2 L593.5,385.5 L593.9,384.8 L594.3,384.1 L594.7,383.4 L595.0,382.7 L595.4,382.0 L595.7,381.3 L596.1,380.6 L596.4,379.9 L596.8,379.2 L597.1,378.5 L597.4,377.7 L597.7,377.0 L598.1,376.3 L598.4,375.6 L598.7,374.9 L599.0,374.1 L599.3,373.4 L599.6,372.7 L599.9,371.9 L600.2,371.2 L600.4,370.5 L600.7,369.7 L601.0,369.0 L601.3,368.3 L601.5,367.5 L601.8,366.8 L602.1,366.0 L602.3,365.3 L602.6,364.5 L602.8,363.8 L603.1,363.0 L603.3,362.3 L603.6,361.5 L603.8,360.8 L604.0,360.0 L604.3,359.3 L604.5,358.5 L604.7,357.8 L604.9,357.0 L605.2,356.2 L605.4,355.5 L605.6,354.7 L605.8,354.0 L606.0,353.2 L606.2,352.4 L606.4,351.7 L606.6,350.9 L606.8,350.1 L607.0,349.4 L607.2,348.6 L607.4,347.8 L607.6,347.0 L607.8,346.3 L608.0,345.5 L608.2,344.7 L608.4,344.0 L608.6,343.2 L608.8,342.4 L608.9,341.6 L609.1,340.9 L609.3,340.1 L609.5,339.3 L609.6,338.5 L609.8,337.7 L610.0,337.0 L610.2,336.2 L610.3,335.4 L610.5,334.6 L610.7,333.9 L610.9,333.1 L611.0,332.3 L611.2,331.5 L611.4,330.7 L611.5,330.0 L611.7,329.2 L611.9,328.4 L612.0,327.6 L612.2,326.8 L612.4,326.1 L612.5,325.3 L612.7,324.5 L612.9,323.7 L613.0,322.9 L613.2,322.2 L613.4,321.4 L613.5,320.6 L613.7,319.8 L613.9,319.1 L614.0,318.3 L614.2,317.5 L614.4,316.7 L614.5,315.9 L614.7,315.2 L614.9,314.4 L615.1,313.6 L615.2,312.8 L615.4,312.1 L615.6,311.3 L615.8,310.5 L615.9,309.7 L616.1,309.0 L616.3,308.2 L616.5,307.4 L616.7,306.7 L616.8,305.9 L617.0,305.1 L617.2,304.4 L617.4,303.6 L617.6,302.8 L617.8,302.1 L618.0,301.3 L618.2,300.5 L618.4,299.8 L618.6,299.0 L618.8,298.3 L619.0,297.5" fill="none" stroke="#0a0a0a" stroke-width="2.5" stroke-linecap="butt" stroke-linejoin="round"/>
<path d="M441.0,302.3 L441.7,302.5 L442.4,302.8 L443.1,303.0 L443.8,303.3 L444.5,303.5 L445.2,303.8 L445.8,304.1 L446.5,304.3 L447.2,304.6 L447.9,304.9 L448.5,305.2 L449.2,305.5 L449.8,305.9 L450.5,306.2 L451.1,306.5 L451.8,306.9 L452.4,307.2 L453.1,307.5 L453.7,307.9 L454.3,308.3 L454.9,308.6 L455.6,309.0 L456.2,309.4 L456.8,309.8 L457.4,310.1 L458.0,310.5 L458.6,310.9 L459.2,311.3 L459.8,311.7 L460.4,312.2 L461.0,312.6 L461.6,313.0 L462.2,313.4 L462.8,313.9 L463.3,314.3 L463.9,314.7 L464.5,315.2 L465.1,315.6 L465.6,316.1 L466.2,316.5 L466.8,317.0 L467.3,317.5 L467.9,317.9 L468.4,318.4 L469.0,318.9 L469.5,319.4 L470.1,319.9 L470.6,320.3 L471.2,320.8 L471.7,321.3 L472.2,321.8 L472.8,322.3 L473.3,322.8 L473.8,323.3 L474.3,323.8 L474.9,324.3 L475.4,324.8 L475.9,325.3 L476.4,325.9 L477.0,326.4 L477.5,326.9 L478.0,327.4 L478.5,327.9 L479.0,328.4 L479.5,329.0 L480.0,329.5 L480.5,330.0 L481.0,330.5 L481.5,331.1 L482.0,331.6 L482.5,332.1 L483.0,332.7 L483.5,333.2 L484.0,333.7 L484.5,334.3 L485.0,334.8 L485.5,335.3 L486.0,335.9 L486.5,336.4 L486.9,336.9 L487.4,337.5 L487.9,338.0 L488.4,338.6 L488.9,339.1 L489.4,339.6 L489.8,340.2 L490.3,340.7 L490.8,341.3 L491.3,341.8 L491.7,342.4 L492.2,342.9 L492.7,343.5 L493.1,344.0 L493.6,344.6 L494.1,345.1 L494.6,345.7 L495.0,346.2 L495.5,346.8 L496.0,347.3 L496.4,347.9 L496.9,348.4 L497.4,349.0 L497.8,349.6 L498.3,350.1 L498.7,350.7 L499.2,351.2 L499.7,351.8 L500.1,352.4 L500.6,352.9 L501.0,353.5 L501.5,354.1 L502.0,354.6 L502.4,355.2 L502.9,355.8 L503.3,356.3 L503.8,356.9 L504.2,357.5 L504.7,358.0 L505.2,358.6 L505.6,359.2 L506.1,359.7 L506.5,360.3 L507.0,360.9 L507.4,361.5 L507.9,362.0 L508.3,362.6 L508.8,363.2 L509.3,363.8 L509.7,364.3 L510.2,364.9 L510.6,365.5 L511.1,366.1 L511.5,366.6 L512.0,367.2 L512.5,367.8 L512.9,368.3 L513.4,368.9 L513.9,369.5 L514.3,370.0 L514.8,370.6 L515.3,371.2 L515.7,371.7 L516.2,372.3 L516.7,372.8 L517.1,373.4 L517.6,374.0 L518.1,374.5 L518.6,375.1 L519.1,375.6 L519.5,376.1 L520.0,376.7 L520.5,377.2 L521.0,377.8 L521.5,378.3 L522.0,378.8 L522.5,379.3 L523.0,379.8 L523.5,380.4 L524.0,380.9 L524.5,381.4 L525.1,381.9 L525.6,382.4 L526.1,382.9 L526.6,383.4 L527.2,383.8 L527.7,384.3 L528.2,384.8 L528.8,385.3 L529.3,385.7 L529.9,386.2 L530.4,386.6 L531.0,387.1 L531.5,387.5 L532.1,388.0 L532.7,388.4 L533.2,388.9 L533.8,389.3 L534.4,389.7 L535.0,390.2 L535.6,390.6 L536.1,391.0 L536.7,391.5 L537.3,391.9 L537.9,392.3 L538.5,392.7 L539.1,393.2 L539.7,393.6 L540.3,394.0 L540.9,394.5 L541.5,394.9 L542.1,395.4 L542.7,395.8 L543.3,396.2 L543.9,396.7 L544.6,397.1 L545.2,397.5 L545.8,397.9 L546.4,398.4 L547.1,398.8 L547.7,399.2 L548.3,399.6 L549.0,399.9 L549.6,400.3 L550.3,400.7 L550.9,401.0 L551.6,401.4 L552.2,401.7 L552.9,402.0 L553.6,402.3 L554.2,402.6 L554.9,402.9 L555.6,403.1 L556.3,403.4 L557.0,403.6 L557.7,403.8 L558.4,404.0 L559.1,404.1 L559.8,404.3 L560.5,404.4 L561.2,404.5 L561.9,404.6 L562.6,404.7 L563.3,404.7 L564.1,404.7 L564.8,404.7 L565.5,404.7 L566.2,404.7 L567.6,404.5 L568.9,404.2 L570.3,403.9 L571.6,403.4 L572.2,403.1 L572.9,402.8 L573.5,402.5 L574.1,402.2 L574.8,401.8 L575.4,401.4 L576.0,401.0 L576.5,400.6 L577.1,400.1 L577.7,399.7 L578.3,399.2 L578.8,398.7 L579.4,398.2 L579.9,397.7 L580.5,397.2 L581.0,396.6 L581.5,396.1 L582.0,395.6 L582.5,395.0 L583.0,394.5 L583.5,394.0 L584.0,393.4 L584.5,392.8 L585.0,392.3 L585.4,391.7 L585.9,391.1 L586.3,390.6 L586.8,390.0 L587.2,389.4 L587.7,388.8 L588.1,388.2 L588.5,387.6 L588.9,387.0 L589.3,386.4 L589.7,385.8 L590.1,385.2 L590.5,384.5 L590.9,383.9 L591.3,383.3 L591.7,382.7 L592.0,382.0 L592.4,381.4 L592.8,380.8 L593.1,380.1 L593.5,379.5 L593.8,378.8 L594.2,378.2 L594.5,377.5 L594.8,376.9 L595.2,376.2 L595.5,375.6 L595.8,374.9 L596.1,374.3 L596.4,373.6 L596.7,373.0 L597.0,372.3 L597.3,371.6 L597.6,371.0 L597.9,370.3 L598.2,369.6 L598.4,369.0 L598.7,368.3 L599.0,367.6 L599.3,367.0 L599.5,366.3 L599.8,365.6 L600.0,364.9 L600.3,364.3 L600.5,363.6 L600.8,362.9 L601.0,362.2 L601.3,361.5 L601.5,360.8 L601.7,360.2 L602.0,359.5 L602.2,358.8 L602.4,358.1 L602.6,357.4 L602.9,356.7 L603.1,356.0 L603.3,355.3 L603.5,354.6 L603.7,353.9 L603.9,353.2 L604.1,352.6 L604.3,351.9 L604.5,351.2 L604.7,350.5 L604.9,349.8 L605.1,349.1 L605.3,348.4 L605.5,347.7 L605.7,347.0 L605.9,346.2 L606.1,345.5 L606.2,344.8 L606.4,344.1 L606.6,343.4 L606.8,342.7 L607.0,342.0 L607.1,341.3 L607.3,340.6 L607.5,339.9 L607.7,339.2 L607.8,338.5 L608.0,337.8 L608.2,337.1 L608.4,336.4 L608.5,335.6 L608.7,334.9 L608.9,334.2 L609.0,333.5 L609.2,332.8 L609.4,332.1 L609.5,331.4 L609.7,330.7 L609.9,330.0 L610.0,329.2 L610.2,328.5 L610.4,327.8 L610.6,327.1 L610.7,326.4 L610.9,325.7 L611.1,325.0 L611.2,324.3 L611.4,323.6 L611.6,322.9 L611.7,322.1 L611.9,321.4 L612.1,320.7 L612.3,320.0 L612.4,319.3 L612.6,318.6 L612.8,317.9 L613.0,317.2 L613.2,316.5 L613.3,315.8 L613.5,315.1 L613.7,314.4 L613.9,313.7 L614.1,313.0 L614.3,312.3 L614.5,311.6 L614.7,310.9 L614.8,310.2 L615.0,309.5 L615.2,308.8 L615.4,308.1 L615.6,307.4 L615.9,306.7 L616.1,306.0 L616.3,305.3 L616.5,304.6 L616.7,303.9 L616.9,303.2 L617.1,302.5 L617.4,301.8 L617.6,301.1 L617.8,300.4 L618.0,299.7 L618.3,299.1 L618.5,298.4 L618.8,297.7 L619.0,297.0" fill="none" stroke="#444" stroke-width="2.45" stroke-linecap="butt" stroke-linejoin="round"/>
<path d="M439.5,303.5 L440.2,303.7 L440.9,304.0 L441.6,304.2 L442.3,304.4 L443.0,304.7 L443.6,304.9 L444.3,305.2 L445.0,305.5 L445.7,305.7 L446.3,306.0 L447.0,306.3 L447.7,306.6 L448.3,306.9 L449.0,307.2 L449.6,307.5 L450.2,307.8 L450.9,308.1 L451.5,308.4 L452.2,308.7 L452.8,309.0 L453.4,309.4 L454.0,309.7 L454.6,310.1 L455.3,310.4 L455.9,310.8 L456.5,311.1 L457.1,311.5 L457.7,311.8 L458.3,312.2 L458.9,312.6 L459.5,313.0 L460.0,313.3 L460.6,313.7 L461.2,314.1 L461.8,314.5 L462.4,314.9 L462.9,315.3 L463.5,315.7 L464.1,316.1 L464.6,316.6 L465.2,317.0 L465.8,317.4 L466.3,317.8 L466.9,318.2 L467.4,318.7 L468.0,319.1 L468.5,319.6 L469.1,320.0 L469.6,320.4 L470.1,320.9 L470.7,321.4 L471.2,321.8 L471.7,322.3 L472.3,322.7 L472.8,323.2 L473.3,323.7 L473.9,324.1 L474.4,324.6 L474.9,325.1 L475.4,325.6 L475.9,326.0 L476.4,326.5 L476.9,327.0 L477.5,327.5 L478.0,328.0 L478.5,328.5 L479.0,329.0 L479.5,329.5 L480.0,330.0 L480.5,330.5 L481.0,331.0 L481.5,331.5 L482.0,332.0 L482.5,332.5 L482.9,333.0 L483.4,333.6 L483.9,334.1 L484.4,334.6 L484.9,335.1 L485.4,335.6 L485.9,336.2 L486.3,336.7 L486.8,337.2 L487.3,337.7 L487.8,338.3 L488.3,338.8 L488.7,339.3 L489.2,339.8 L489.7,340.4 L490.2,340.9 L490.6,341.4 L491.1,342.0 L491.6,342.5 L492.1,343.0 L492.5,343.6 L493.0,344.1 L493.5,344.7 L493.9,345.2 L494.4,345.7 L494.9,346.3 L495.3,346.8 L495.8,347.4 L496.3,347.9 L496.7,348.4 L497.2,349.0 L497.7,349.5 L498.1,350.1 L498.6,350.6 L499.1,351.1 L499.5,351.7 L500.0,352.2 L500.5,352.8 L500.9,353.3 L501.4,353.8 L501.9,354.4 L502.3,354.9 L502.8,355.4 L503.2,356.0 L503.7,356.5 L504.2,357.0 L504.6,357.6 L505.1,358.1 L505.6,358.6 L506.1,359.2 L506.5,359.7 L507.0,360.2 L507.5,360.8 L507.9,361.3 L508.4,361.8 L508.9,362.3 L509.3,362.9 L509.8,363.4 L510.3,363.9 L510.8,364.4 L511.2,364.9 L511.7,365.5 L512.2,366.0 L512.7,366.5 L513.2,367.0 L513.6,367.5 L514.1,368.0 L514.6,368.5 L515.1,369.0 L515.6,369.5 L516.1,370.0 L516.6,370.5 L517.1,371.0 L517.5,371.5 L518.0,372.0 L518.5,372.5 L519.0,373.0 L519.5,373.5 L520.0,374.0 L520.5,374.5 L521.1,374.9 L521.6,375.4 L522.1,375.9 L522.6,376.4 L523.1,376.9 L523.6,377.3 L524.1,377.8 L524.7,378.3 L525.2,378.7 L525.7,379.2 L526.2,379.7 L526.8,380.1 L527.3,380.6 L527.9,381.0 L528.4,381.5 L528.9,382.0 L529.5,382.4 L530.0,382.9 L530.6,383.3 L531.1,383.7 L531.7,384.2 L532.3,384.6 L532.8,385.1 L533.4,385.5 L534.0,385.9 L534.5,386.3 L535.1,386.8 L535.7,387.2 L536.3,387.6 L536.9,388.0 L537.4,388.4 L538.0,388.8 L538.6,389.3 L539.2,389.7 L539.8,390.1 L540.5,390.5 L541.1,390.9 L541.7,391.3 L542.3,391.6 L542.9,392.0 L543.5,392.4 L544.2,392.8 L544.8,393.1 L545.4,393.5 L546.1,393.9 L546.7,394.2 L547.4,394.5 L548.0,394.9 L548.7,395.2 L549.3,395.5 L550.0,395.8 L550.6,396.1 L551.3,396.4 L552.0,396.7 L552.6,396.9 L553.3,397.2 L554.0,397.4 L554.7,397.6 L555.3,397.8 L556.0,398.0 L556.7,398.2 L557.4,398.4 L558.7,398.7 L560.1,398.9 L561.5,399.0 L562.9,399.1 L564.3,399.2 L565.6,399.1 L567.0,399.0 L568.4,398.8 L569.7,398.5 L571.1,398.1 L572.4,397.7 L573.7,397.2 L574.9,396.6 L576.1,395.9 L577.3,395.2 L578.4,394.4 L579.0,394.0 L579.6,393.5 L580.1,393.1 L580.6,392.6 L581.1,392.1 L581.7,391.6 L582.2,391.1 L582.7,390.6 L583.1,390.1 L583.6,389.5 L584.1,389.0 L584.6,388.5 L585.0,387.9 L585.5,387.3 L585.9,386.8 L586.3,386.2 L586.8,385.6 L587.2,385.1 L587.6,384.5 L588.0,383.9 L588.4,383.3 L588.8,382.7 L589.2,382.1 L589.6,381.5 L589.9,380.9 L590.3,380.3 L590.7,379.7 L591.0,379.0 L591.4,378.4 L591.7,377.8 L592.1,377.2 L592.4,376.5 L592.7,375.9 L593.0,375.3 L593.4,374.6 L593.7,374.0 L594.0,373.3 L594.3,372.7 L594.6,372.0 L594.9,371.4 L595.2,370.7 L595.4,370.1 L595.7,369.4 L596.0,368.8 L596.3,368.1 L596.6,367.4 L596.8,366.8 L597.1,366.1 L597.4,365.5 L597.6,364.8 L597.9,364.1 L598.1,363.4 L598.4,362.8 L598.6,362.1 L598.9,361.4 L599.1,360.8 L599.4,360.1 L599.6,359.4 L599.8,358.8 L600.1,358.1 L600.3,357.4 L600.5,356.7 L600.8,356.1 L601.0,355.4 L601.2,354.7 L601.5,354.0 L601.7,353.4 L601.9,352.7 L602.1,352.0 L602.4,351.4 L602.6,350.7 L602.8,350.0 L603.0,349.3 L603.2,348.7 L603.5,348.0 L603.7,347.3 L603.9,346.6 L604.1,346.0 L604.3,345.3 L604.5,344.6 L604.7,343.9 L604.9,343.3 L605.1,342.6 L605.4,341.9 L605.6,341.2 L605.8,340.6 L606.0,339.9 L606.2,339.2 L606.4,338.5 L606.6,337.9 L606.8,337.2 L607.0,336.5 L607.2,335.8 L607.4,335.2 L607.6,334.5 L607.8,333.8 L608.0,333.1 L608.2,332.5 L608.4,331.8 L608.6,331.1 L608.8,330.4 L609.0,329.7 L609.2,329.1 L609.3,328.4 L609.5,327.7 L609.7,327.0 L609.9,326.4 L610.1,325.7 L610.3,325.0 L610.5,324.3 L610.7,323.6 L610.9,323.0 L611.1,322.3 L611.3,321.6 L611.5,320.9 L611.7,320.3 L611.9,319.6 L612.1,318.9 L612.3,318.2 L612.5,317.5 L612.7,316.9 L612.9,316.2 L613.1,315.5 L613.3,314.8 L613.5,314.2 L613.7,313.5 L613.9,312.8 L614.1,312.1 L614.3,311.4 L614.5,310.8 L614.7,310.1 L614.9,309.4 L615.1,308.7 L615.3,308.0 L615.5,307.4 L615.7,306.7 L615.9,306.0 L616.2,305.3 L616.4,304.7 L616.6,304.0 L616.8,303.3 L617.0,302.6 L617.2,301.9 L617.4,301.3 L617.7,300.6 L617.9,299.9 L618.1,299.2 L618.3,298.5 L618.5,297.9 L618.8,297.2 L619.0,296.5" fill="none" stroke="#959595" stroke-width="2.5" stroke-linecap="butt" stroke-linejoin="round"/>
<path d="M441.0,302.2 L442.3,302.5 L443.6,302.8 L445.0,303.1 L446.3,303.5 L447.5,303.9 L448.8,304.3 L450.1,304.7 L451.3,305.1 L452.6,305.6 L453.8,306.1 L455.0,306.6 L456.2,307.1 L457.5,307.7 L458.6,308.2 L459.8,308.8 L461.0,309.4 L462.2,310.0 L463.3,310.6 L464.5,311.3 L465.6,312.0 L466.7,312.6 L467.9,313.3 L469.0,314.0 L470.1,314.8 L471.2,315.5 L472.3,316.2 L473.4,317.0 L474.4,317.8 L475.5,318.6 L476.6,319.4 L477.6,320.2 L478.7,321.0 L479.7,321.9 L480.7,322.7 L481.8,323.6 L482.8,324.4 L483.8,325.3 L484.8,326.2 L485.8,327.1 L486.8,327.9 L487.8,328.9 L488.8,329.8 L489.8,330.7 L490.7,331.6 L491.7,332.5 L492.7,333.5 L493.7,334.4 L494.6,335.3 L495.6,336.3 L496.5,337.2 L497.5,338.2 L498.4,339.1 L499.3,340.1 L500.3,341.0 L501.2,342.0 L502.1,343.0 L503.1,343.9 L504.0,344.9 L504.9,345.9 L505.8,346.8 L506.8,347.8 L507.7,348.7 L508.6,349.7 L509.5,350.6 L510.4,351.6 L511.4,352.6 L512.3,353.5 L513.2,354.5 L514.2,355.4 L515.1,356.3 L516.0,357.3 L517.0,358.2 L517.9,359.2 L518.8,360.1 L519.8,361.0 L520.8,361.9 L521.7,362.8 L522.7,363.7 L523.6,364.6 L524.6,365.5 L525.6,366.4 L526.6,367.3 L527.6,368.2 L528.6,369.0 L529.6,369.9 L530.6,370.8 L531.7,371.6 L532.7,372.4 L533.8,373.2 L534.8,374.1 L535.9,374.9 L537.0,375.7 L538.1,376.4 L539.2,377.2 L540.3,378.0 L541.4,378.7 L542.5,379.5 L543.7,380.2 L544.9,380.9 L546.0,381.6 L547.2,382.3 L548.4,383.0 L549.7,383.6 L550.9,384.2 L552.1,384.8 L553.4,385.4 L554.6,385.9 L555.9,386.4 L557.1,386.8 L558.4,387.2 L559.7,387.6 L561.0,387.9 L562.3,388.1 L563.6,388.3 L564.9,388.4 L566.2,388.4 L567.4,388.4 L568.7,388.3 L570.0,388.1 L571.3,387.9 L572.6,387.7 L573.8,387.3 L575.0,386.9 L576.2,386.5 L577.4,386.0 L578.6,385.4 L579.7,384.8 L580.9,384.2 L581.9,383.5 L583.0,382.7 L584.0,381.9 L584.9,381.1 L585.9,380.2 L586.8,379.2 L587.6,378.3 L588.4,377.3 L589.2,376.2 L590.0,375.1 L590.8,374.0 L591.5,372.9 L592.2,371.7 L592.8,370.6 L593.5,369.4 L594.1,368.1 L594.7,366.9 L595.2,365.6 L595.8,364.4 L596.4,363.1 L596.9,361.8 L597.4,360.5 L597.9,359.2 L598.4,357.9 L598.9,356.6 L599.4,355.3 L599.9,354.0 L600.3,352.8 L600.8,351.5 L601.3,350.2 L601.7,348.9 L602.2,347.7 L602.6,346.4 L603.0,345.1 L603.5,343.9 L603.9,342.6 L604.3,341.4 L604.8,340.1 L605.2,338.9 L605.6,337.6 L606.0,336.4 L606.4,335.1 L606.8,333.9 L607.2,332.6 L607.6,331.4 L608.1,330.1 L608.5,328.9 L608.9,327.7 L609.3,326.4 L609.7,325.2 L610.1,323.9 L610.5,322.7 L610.9,321.4 L611.3,320.2 L611.7,318.9 L612.1,317.7 L612.5,316.4 L612.9,315.2 L613.3,313.9 L613.8,312.7 L614.2,311.4 L614.6,310.2 L615.0,308.9 L615.5,307.6 L615.9,306.4 L616.3,305.1 L616.8,303.8 L617.2,302.5 L617.7,301.2 L618.1,299.9 L618.6,298.6 L618.8,298.0" fill="none" stroke="#111" stroke-width="2.45" stroke-dasharray="5.3,5.2" stroke-dashoffset="-3.6" stroke-linecap="butt" stroke-linejoin="round"/>
<line x1="619.20" y1="232.90" x2="619.20" y2="420.00" stroke="#111" stroke-width="1.6"/>
<line x1="339.10" y1="419.10" x2="619.20" y2="419.10" stroke="#111" stroke-width="1.9"/>
<line x1="619.20" y1="232.90" x2="621.80" y2="232.90" stroke="#111" stroke-width="1.5"/>
<text x="624.20" y="235.30" class="tk">40</text>
<line x1="619.20" y1="259.50" x2="621.80" y2="259.50" stroke="#111" stroke-width="1.5"/>
<text x="624.20" y="261.90" class="tk">20</text>
<line x1="619.20" y1="286.10" x2="621.80" y2="286.10" stroke="#111" stroke-width="1.5"/>
<text x="624.20" y="288.50" class="tk">0</text>
<line x1="619.20" y1="312.70" x2="621.80" y2="312.70" stroke="#111" stroke-width="1.5"/>
<text x="624.20" y="315.10" class="tk">-20</text>
<line x1="619.20" y1="339.30" x2="621.80" y2="339.30" stroke="#111" stroke-width="1.5"/>
<text x="624.20" y="341.70" class="tk">-40</text>
<line x1="619.20" y1="365.90" x2="621.80" y2="365.90" stroke="#111" stroke-width="1.5"/>
<text x="624.20" y="368.30" class="tk">-60</text>
<line x1="619.20" y1="392.50" x2="621.80" y2="392.50" stroke="#111" stroke-width="1.5"/>
<text x="624.20" y="394.90" class="tk">-80</text>
<line x1="619.20" y1="419.10" x2="621.80" y2="419.10" stroke="#111" stroke-width="1.5"/>
<text x="624.20" y="421.50" class="tk">-100</text>
<line x1="340.00" y1="419.10" x2="340.00" y2="421.40" stroke="#111" stroke-width="1.6"/>
<text x="340.00" y="431.00" class="tkx" text-anchor="middle">-1200</text>
<line x1="433.07" y1="419.10" x2="433.07" y2="421.40" stroke="#111" stroke-width="1.6"/>
<text x="433.07" y="431.00" class="tkx" text-anchor="middle">-800</text>
<line x1="526.13" y1="419.10" x2="526.13" y2="421.40" stroke="#111" stroke-width="1.6"/>
<text x="526.13" y="431.00" class="tkx" text-anchor="middle">-400</text>
<line x1="619.20" y1="419.10" x2="619.20" y2="421.40" stroke="#111" stroke-width="1.6"/>
<text x="619.20" y="431.00" class="tkx" text-anchor="middle">0</text>
<text x="479.70" y="449.60" class="xl" text-anchor="middle">Time (ms)</text>
<text transform="translate(658.00,323.92) rotate(-90)" class="yl" text-anchor="middle">Knee Joint Angle&#160;&#160;(Degrees)</text>
<text x="338.60" y="254.60" class="lt">E</text>
<line x1="339.20" y1="515.60" x2="619.20" y2="515.60" stroke="#4a4a4a" stroke-width="1.1"/>
<path d="M426.8,527.0 L428.1,527.1 L429.4,527.2 L430.6,527.3 L431.9,527.4 L433.2,527.5 L434.5,527.6 L435.8,527.7 L437.1,527.8 L438.4,527.9 L439.7,528.1 L441.0,528.2 L442.3,528.3 L443.5,528.5 L444.8,528.6 L446.1,528.8 L447.4,529.0 L448.7,529.2 L450.0,529.4 L451.3,529.6 L452.5,529.8 L453.8,530.0 L455.1,530.2 L456.4,530.5 L457.6,530.8 L458.9,531.0 L460.2,531.3 L461.4,531.6 L462.7,531.9 L463.9,532.3 L465.2,532.6 L466.4,533.0 L467.6,533.4 L468.9,533.8 L470.1,534.2 L471.3,534.6 L472.5,535.0 L473.7,535.5 L475.0,535.9 L476.2,536.4 L477.4,536.9 L478.6,537.4 L479.8,537.8 L481.0,538.4 L482.2,538.9 L483.4,539.4 L484.5,539.9 L485.7,540.4 L486.9,540.9 L488.1,541.5 L489.3,542.0 L490.5,542.6 L491.7,543.1 L492.8,543.6 L494.0,544.2 L495.2,544.7 L496.4,545.2 L497.6,545.8 L498.7,546.3 L499.9,546.8 L501.1,547.4 L502.3,547.9 L503.5,548.4 L504.7,548.9 L505.8,549.4 L507.0,549.9 L508.2,550.4 L509.4,550.9 L510.6,551.3 L511.8,551.8 L513.0,552.3 L514.2,552.7 L515.4,553.1 L516.6,553.5 L517.8,554.0 L519.0,554.4 L520.2,554.8 L521.5,555.1 L522.7,555.5 L523.9,555.9 L525.1,556.2 L526.4,556.6 L527.6,556.9 L528.8,557.3 L530.1,557.6 L531.3,557.9 L532.5,558.2 L533.8,558.5 L535.0,558.8 L536.3,559.1 L537.6,559.4 L538.8,559.7 L540.1,559.9 L541.4,560.2 L542.6,560.5 L543.9,560.7 L545.2,561.0 L546.5,561.2 L547.8,561.4 L549.1,561.6 L550.4,561.9 L551.7,562.1 L553.0,562.3 L554.3,562.5 L555.6,562.7 L557.0,562.9 L558.3,563.1 L559.6,563.3 L561.0,563.4 L562.3,563.6 L563.6,563.7 L565.0,563.8 L566.3,563.9 L567.6,564.0 L568.9,564.0 L570.2,564.0 L571.5,564.0 L572.8,563.9 L574.1,563.9 L575.4,563.7 L576.7,563.6 L577.9,563.4 L579.1,563.1 L580.4,562.9 L581.6,562.5 L582.8,562.1 L583.9,561.7 L585.1,561.2 L586.2,560.7 L587.3,560.1 L588.4,559.5 L589.5,558.8 L590.5,558.1 L591.5,557.3 L592.5,556.5 L593.4,555.7 L594.3,554.8 L595.2,553.9 L596.0,552.9 L596.8,551.9 L597.6,550.9 L598.3,549.8 L599.0,548.7 L599.7,547.6 L600.3,546.5 L600.9,545.4 L601.5,544.2 L602.1,543.0 L602.6,541.8 L603.1,540.6 L603.6,539.4 L604.0,538.1 L604.4,536.9 L604.9,535.6 L605.3,534.4 L605.7,533.1 L606.0,531.8 L606.4,530.6 L606.7,529.3 L607.1,528.0 L607.4,526.7 L607.7,525.5 L608.0,524.2 L608.4,522.9 L608.7,521.6 L609.0,520.4 L609.3,519.1 L609.6,517.9 L609.9,516.6 L610.2,515.3 L610.5,514.1 L610.8,512.8 L611.1,511.6 L611.3,510.3 L611.6,509.1 L611.9,507.8 L612.2,506.6 L612.5,505.3 L612.8,504.1 L613.1,502.8 L613.3,501.6 L613.6,500.3 L613.9,499.1 L614.2,497.8 L614.5,496.6 L614.7,495.3 L615.0,494.1 L615.3,492.8 L615.6,491.6 L615.9,490.3 L616.2,489.1 L616.4,487.8 L616.7,486.6 L617.0,485.3 L617.3,484.0 L617.6,482.8 L617.9,481.5 L618.2,480.2 L618.5,478.9 L618.8,477.6 L619.0,477.0" fill="none" stroke="#0a0a0a" stroke-width="2.5" stroke-linecap="butt" stroke-linejoin="round"/>
<path d="M439.5,525.3 L440.7,525.5 L441.9,525.7 L443.1,525.9 L444.3,526.2 L445.5,526.4 L446.7,526.7 L447.9,526.9 L449.1,527.2 L450.3,527.5 L451.5,527.7 L452.7,528.0 L453.9,528.3 L455.1,528.6 L456.3,528.9 L457.5,529.2 L458.7,529.5 L459.9,529.9 L461.0,530.2 L462.2,530.5 L463.4,530.9 L464.6,531.2 L465.8,531.6 L466.9,532.0 L468.1,532.3 L469.3,532.7 L470.4,533.1 L471.6,533.5 L472.8,533.9 L473.9,534.3 L475.1,534.7 L476.2,535.2 L477.4,535.6 L478.5,536.0 L479.7,536.5 L480.8,536.9 L482.0,537.4 L483.1,537.8 L484.3,538.3 L485.4,538.7 L486.5,539.2 L487.7,539.7 L488.8,540.2 L489.9,540.7 L491.0,541.2 L492.2,541.7 L493.3,542.2 L494.4,542.7 L495.5,543.2 L496.6,543.7 L497.8,544.2 L498.9,544.7 L500.0,545.3 L501.1,545.8 L502.2,546.3 L503.3,546.8 L504.4,547.2 L505.6,547.7 L506.7,548.2 L507.8,548.7 L508.9,549.1 L510.1,549.5 L511.2,550.0 L512.3,550.4 L513.5,550.8 L514.6,551.2 L515.8,551.6 L516.9,551.9 L518.0,552.3 L519.2,552.7 L520.4,553.0 L521.5,553.4 L522.7,553.7 L523.8,554.0 L525.0,554.3 L526.2,554.7 L527.4,555.0 L528.5,555.3 L529.7,555.6 L530.9,555.9 L532.1,556.3 L533.3,556.6 L534.5,556.9 L535.7,557.2 L536.9,557.5 L538.1,557.8 L539.3,558.2 L540.5,558.5 L541.7,558.8 L542.9,559.1 L544.1,559.4 L545.4,559.7 L546.6,560.0 L547.8,560.3 L549.0,560.6 L550.3,560.8 L551.5,561.1 L552.7,561.4 L554.0,561.6 L555.2,561.8 L556.4,562.0 L557.7,562.2 L558.9,562.4 L560.1,562.5 L561.4,562.7 L562.6,562.8 L563.8,562.9 L565.1,563.0 L566.3,563.0 L567.6,563.0 L568.8,563.1 L570.0,563.0 L571.3,563.0 L572.5,562.9 L573.7,562.8 L574.9,562.7 L576.2,562.5 L577.4,562.3 L578.6,562.1 L579.7,561.8 L580.9,561.5 L582.1,561.2 L583.2,560.8 L584.3,560.4 L585.4,559.9 L586.5,559.4 L587.5,558.9 L588.6,558.3 L589.5,557.7 L590.5,557.0 L591.4,556.3 L592.3,555.5 L593.2,554.8 L594.1,553.9 L594.9,553.1 L595.7,552.2 L596.5,551.2 L597.2,550.3 L597.9,549.3 L598.6,548.3 L599.2,547.3 L599.9,546.2 L600.5,545.1 L601.0,544.1 L601.6,542.9 L602.1,541.8 L602.6,540.7 L603.0,539.5 L603.5,538.4 L603.9,537.2 L604.3,536.0 L604.7,534.8 L605.1,533.6 L605.4,532.4 L605.8,531.2 L606.1,529.9 L606.5,528.7 L606.8,527.5 L607.1,526.3 L607.4,525.1 L607.7,523.8 L608.0,522.6 L608.3,521.4 L608.6,520.2 L608.9,519.0 L609.2,517.8 L609.4,516.6 L609.7,515.4 L610.0,514.2 L610.3,513.0 L610.5,511.9 L610.8,510.7 L611.1,509.5 L611.3,508.3 L611.6,507.1 L611.9,505.9 L612.1,504.7 L612.4,503.6 L612.7,502.4 L612.9,501.2 L613.2,500.0 L613.5,498.8 L613.8,497.7 L614.0,496.5 L614.3,495.3 L614.6,494.1 L614.9,492.9 L615.1,491.7 L615.4,490.6 L615.7,489.4 L616.0,488.2 L616.3,487.0 L616.6,485.8 L616.9,484.6 L617.2,483.4 L617.5,482.2 L617.8,481.0 L618.2,479.8 L618.5,478.6 L618.8,477.4 L619.0,476.8" fill="none" stroke="#444" stroke-width="2.45" stroke-linecap="butt" stroke-linejoin="round"/>
<path d="M439.3,524.8 L440.5,525.0 L441.7,525.2 L443.0,525.4 L444.2,525.6 L445.4,525.8 L446.6,526.1 L447.8,526.3 L449.0,526.6 L450.2,526.8 L451.4,527.1 L452.6,527.4 L453.8,527.7 L455.0,528.0 L456.1,528.3 L457.3,528.6 L458.5,528.9 L459.7,529.2 L460.8,529.6 L462.0,529.9 L463.2,530.3 L464.4,530.6 L465.5,531.0 L466.7,531.3 L467.8,531.7 L469.0,532.1 L470.1,532.5 L471.3,532.9 L472.5,533.2 L473.6,533.6 L474.8,534.0 L475.9,534.4 L477.0,534.9 L478.2,535.3 L479.3,535.7 L480.5,536.1 L481.6,536.5 L482.8,537.0 L483.9,537.4 L485.0,537.8 L486.2,538.3 L487.3,538.7 L488.4,539.1 L489.6,539.6 L490.7,540.0 L491.9,540.5 L493.0,540.9 L494.1,541.3 L495.3,541.8 L496.4,542.2 L497.5,542.7 L498.7,543.1 L499.8,543.6 L500.9,544.0 L502.1,544.5 L503.2,544.9 L504.3,545.4 L505.5,545.8 L506.6,546.3 L507.8,546.7 L508.9,547.2 L510.0,547.6 L511.2,548.0 L512.3,548.5 L513.5,548.9 L514.6,549.4 L515.8,549.8 L516.9,550.2 L518.1,550.6 L519.2,551.1 L520.4,551.5 L521.5,551.9 L522.7,552.3 L523.8,552.7 L525.0,553.1 L526.1,553.5 L527.3,553.9 L528.5,554.3 L529.6,554.7 L530.8,555.0 L532.0,555.4 L533.2,555.8 L534.3,556.1 L535.5,556.5 L536.7,556.8 L537.9,557.2 L539.1,557.5 L540.3,557.8 L541.5,558.1 L542.6,558.4 L543.8,558.7 L545.0,559.0 L546.2,559.3 L547.5,559.6 L548.7,559.8 L549.9,560.1 L551.1,560.3 L552.3,560.5 L553.5,560.7 L554.7,560.9 L555.9,561.1 L557.2,561.3 L558.4,561.4 L559.6,561.5 L560.8,561.6 L562.1,561.7 L563.3,561.8 L564.5,561.9 L565.7,561.9 L567.0,561.9 L568.2,562.0 L569.4,561.9 L570.7,561.9 L571.9,561.9 L573.2,561.8 L574.4,561.7 L575.6,561.5 L576.8,561.4 L578.0,561.2 L579.2,561.0 L580.4,560.7 L581.6,560.4 L582.7,560.1 L583.9,559.7 L585.0,559.3 L586.1,558.8 L587.1,558.3 L588.2,557.7 L589.2,557.1 L590.1,556.5 L591.1,555.8 L592.0,555.0 L592.9,554.2 L593.7,553.4 L594.6,552.5 L595.4,551.6 L596.1,550.7 L596.9,549.7 L597.6,548.7 L598.2,547.7 L598.9,546.7 L599.5,545.6 L600.1,544.5 L600.7,543.5 L601.2,542.3 L601.7,541.2 L602.2,540.1 L602.7,538.9 L603.1,537.8 L603.5,536.6 L603.9,535.4 L604.3,534.2 L604.7,533.0 L605.0,531.8 L605.4,530.6 L605.7,529.4 L606.0,528.2 L606.3,527.0 L606.6,525.8 L606.9,524.6 L607.2,523.3 L607.5,522.1 L607.8,520.9 L608.1,519.8 L608.4,518.6 L608.7,517.4 L609.0,516.2 L609.3,515.0 L609.5,513.8 L609.8,512.6 L610.1,511.4 L610.4,510.3 L610.7,509.1 L610.9,507.9 L611.2,506.7 L611.5,505.5 L611.8,504.4 L612.0,503.2 L612.3,502.0 L612.6,500.8 L612.9,499.7 L613.2,498.5 L613.4,497.3 L613.7,496.1 L614.0,495.0 L614.3,493.8 L614.6,492.6 L614.9,491.4 L615.2,490.3 L615.5,489.1 L615.8,487.9 L616.1,486.7 L616.4,485.5 L616.8,484.4 L617.1,483.2 L617.4,482.0 L617.8,480.8 L618.1,479.6 L618.5,478.4 L618.8,477.2 L619.0,476.6" fill="none" stroke="#959595" stroke-width="2.5" stroke-linecap="butt" stroke-linejoin="round"/>
<path d="M440.5,525.0 L441.7,525.1 L442.9,525.2 L444.2,525.3 L445.4,525.4 L446.6,525.5 L447.8,525.7 L449.0,525.8 L450.2,526.0 L451.4,526.2 L452.6,526.4 L453.8,526.6 L455.0,526.8 L456.2,527.0 L457.4,527.3 L458.5,527.5 L459.7,527.8 L460.9,528.0 L462.1,528.3 L463.3,528.6 L464.5,528.9 L465.6,529.2 L466.8,529.5 L468.0,529.9 L469.1,530.2 L470.3,530.5 L471.5,530.9 L472.6,531.2 L473.8,531.6 L475.0,532.0 L476.1,532.4 L477.3,532.7 L478.4,533.1 L479.6,533.5 L480.8,533.9 L481.9,534.3 L483.1,534.7 L484.2,535.1 L485.4,535.5 L486.5,535.9 L487.6,536.4 L488.8,536.8 L489.9,537.2 L491.1,537.6 L492.2,538.1 L493.4,538.5 L494.5,538.9 L495.6,539.3 L496.8,539.8 L497.9,540.2 L499.0,540.6 L500.2,541.1 L501.3,541.5 L502.4,541.9 L503.6,542.4 L504.7,542.8 L505.8,543.2 L507.0,543.6 L508.1,544.1 L509.2,544.5 L510.3,544.9 L511.5,545.3 L512.6,545.7 L513.7,546.1 L514.9,546.6 L516.0,547.0 L517.1,547.4 L518.3,547.8 L519.4,548.2 L520.5,548.6 L521.7,549.0 L522.8,549.4 L523.9,549.8 L525.1,550.2 L526.2,550.5 L527.4,550.9 L528.5,551.3 L529.7,551.7 L530.8,552.1 L532.0,552.4 L533.1,552.8 L534.3,553.1 L535.4,553.5 L536.6,553.9 L537.8,554.2 L538.9,554.5 L540.1,554.9 L541.3,555.2 L542.4,555.5 L543.6,555.9 L544.8,556.2 L546.0,556.5 L547.2,556.8 L548.4,557.1 L549.6,557.4 L550.8,557.7 L552.0,558.0 L553.2,558.2 L554.4,558.5 L555.6,558.8 L556.8,559.0 L558.1,559.3 L559.3,559.5 L560.5,559.7 L561.8,560.0 L563.0,560.2 L564.2,560.4 L565.5,560.5 L566.7,560.7 L568.0,560.8 L569.2,560.9 L570.4,561.0 L571.7,561.1 L572.9,561.1 L574.1,561.1 L575.3,561.1 L576.5,561.0 L577.7,560.9 L578.9,560.7 L580.1,560.5 L581.3,560.3 L582.4,560.0 L583.6,559.7 L584.7,559.3 L585.8,558.9 L586.8,558.4 L587.9,557.9 L588.9,557.4 L589.8,556.7 L590.7,556.1 L591.6,555.4 L592.5,554.6 L593.3,553.8 L594.1,553.0 L594.9,552.1 L595.6,551.2 L596.4,550.3 L597.1,549.3 L597.7,548.3 L598.4,547.3 L599.0,546.3 L599.6,545.2 L600.1,544.1 L600.7,543.0 L601.2,541.9 L601.7,540.7 L602.2,539.6 L602.7,538.4 L603.1,537.2 L603.6,536.0 L604.0,534.8 L604.4,533.7 L604.8,532.5 L605.2,531.3 L605.6,530.1 L605.9,528.9 L606.3,527.7 L606.6,526.5 L607.0,525.3 L607.3,524.1 L607.6,523.0 L607.9,521.8 L608.2,520.6 L608.5,519.4 L608.8,518.2 L609.1,517.1 L609.3,515.9 L609.6,514.7 L609.9,513.5 L610.1,512.4 L610.4,511.2 L610.7,510.0 L610.9,508.8 L611.2,507.7 L611.4,506.5 L611.7,505.3 L611.9,504.1 L612.2,503.0 L612.4,501.8 L612.7,500.6 L612.9,499.4 L613.2,498.3 L613.4,497.1 L613.7,495.9 L614.0,494.7 L614.3,493.6 L614.5,492.4 L614.8,491.2 L615.1,490.0 L615.4,488.9 L615.7,487.7 L616.0,486.5 L616.3,485.3 L616.6,484.2 L617.0,483.0 L617.3,481.8 L617.7,480.6 L618.0,479.5 L618.4,478.3 L618.8,477.1 L619.0,476.5" fill="none" stroke="#111" stroke-width="2.45" stroke-dasharray="5.3,5.2" stroke-dashoffset="-4.5" stroke-linecap="butt" stroke-linejoin="round"/>
<line x1="619.20" y1="462.00" x2="619.20" y2="649.10" stroke="#111" stroke-width="1.6"/>
<line x1="339.10" y1="648.20" x2="619.20" y2="648.20" stroke="#111" stroke-width="1.9"/>
<line x1="619.20" y1="462.00" x2="621.80" y2="462.00" stroke="#111" stroke-width="1.5"/>
<text x="624.20" y="464.40" class="tk">40</text>
<line x1="619.20" y1="488.60" x2="621.80" y2="488.60" stroke="#111" stroke-width="1.5"/>
<text x="624.20" y="491.00" class="tk">20</text>
<line x1="619.20" y1="515.20" x2="621.80" y2="515.20" stroke="#111" stroke-width="1.5"/>
<text x="624.20" y="517.60" class="tk">0</text>
<line x1="619.20" y1="541.80" x2="621.80" y2="541.80" stroke="#111" stroke-width="1.5"/>
<text x="624.20" y="544.20" class="tk">-20</text>
<line x1="619.20" y1="568.40" x2="621.80" y2="568.40" stroke="#111" stroke-width="1.5"/>
<text x="624.20" y="570.80" class="tk">-40</text>
<line x1="619.20" y1="595.00" x2="621.80" y2="595.00" stroke="#111" stroke-width="1.5"/>
<text x="624.20" y="597.40" class="tk">-60</text>
<line x1="619.20" y1="621.60" x2="621.80" y2="621.60" stroke="#111" stroke-width="1.5"/>
<text x="624.20" y="624.00" class="tk">-80</text>
<line x1="619.20" y1="648.20" x2="621.80" y2="648.20" stroke="#111" stroke-width="1.5"/>
<text x="624.20" y="650.60" class="tk">-100</text>
<line x1="340.00" y1="648.20" x2="340.00" y2="650.50" stroke="#111" stroke-width="1.6"/>
<text x="340.00" y="660.10" class="tkx" text-anchor="middle">-1200</text>
<line x1="433.07" y1="648.20" x2="433.07" y2="650.50" stroke="#111" stroke-width="1.6"/>
<text x="433.07" y="660.10" class="tkx" text-anchor="middle">-800</text>
<line x1="526.13" y1="648.20" x2="526.13" y2="650.50" stroke="#111" stroke-width="1.6"/>
<text x="526.13" y="660.10" class="tkx" text-anchor="middle">-400</text>
<line x1="619.20" y1="648.20" x2="619.20" y2="650.50" stroke="#111" stroke-width="1.6"/>
<text x="619.20" y="660.10" class="tkx" text-anchor="middle">0</text>
<text x="479.70" y="678.70" class="xl" text-anchor="middle">Time (ms)</text>
<text transform="translate(658.00,552.34) rotate(-90)" class="yl" text-anchor="middle">Ankle Joint Angle&#160;&#160;(Degrees)</text>
<text x="338.60" y="483.70" class="lt">F</text>
</svg>
</body></html>
